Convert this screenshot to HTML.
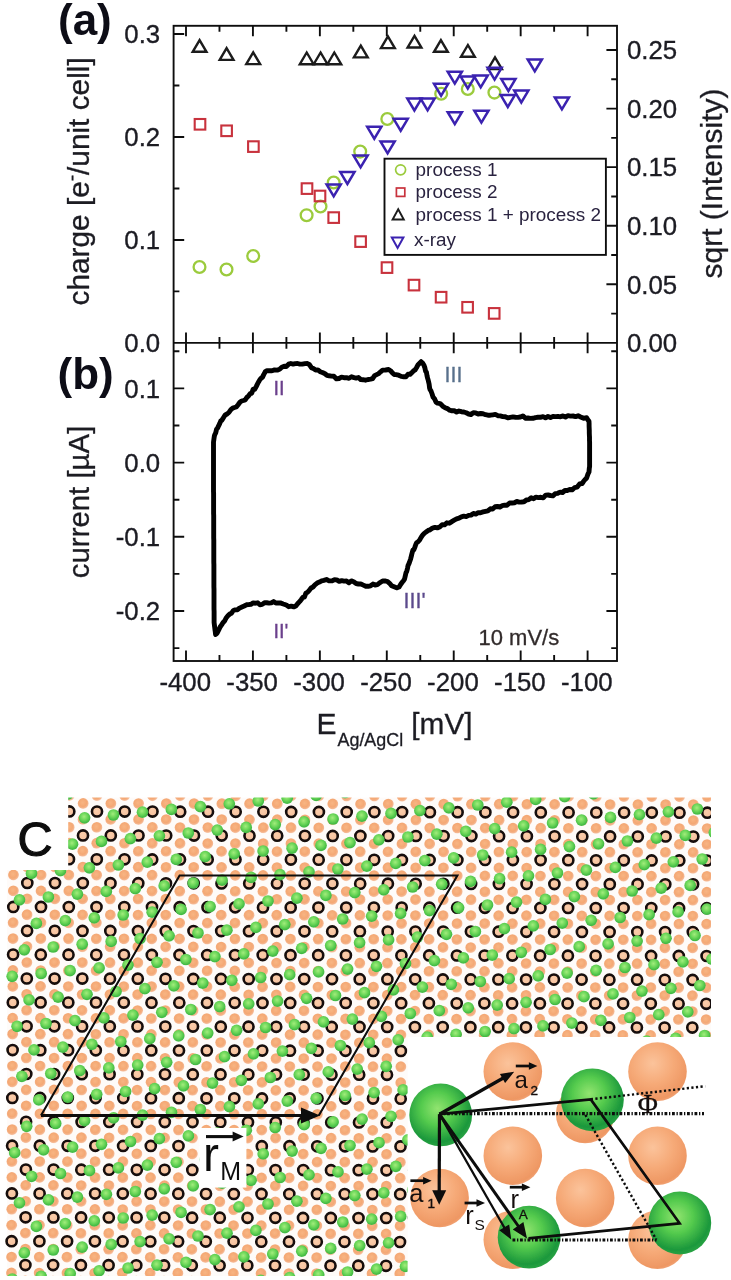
<!DOCTYPE html>
<html lang="en"><head><meta charset="utf-8"><title>Figure</title>
<style>html,body{margin:0;padding:0;background:#fff}body{width:731px;height:1280px;overflow:hidden}svg{display:block}</style></head><body>
<svg width="731" height="1280" viewBox="0 0 731 1280">
<rect width="731" height="1280" fill="#fff"/>
<defs><filter id="soft" x="0" y="0" width="731" height="1280" filterUnits="userSpaceOnUse"><feGaussianBlur stdDeviation="0.6"/></filter></defs>
<g filter="url(#soft)">
<rect x="-10" y="-10" width="751" height="1300" fill="#fff"/>
<g fill="none" stroke="#111" stroke-width="1.9" stroke-linecap="butt">
<rect x="173.6" y="25.8" width="443.4" height="635.2"/>
<line x1="173.6" y1="342.9" x2="617.0" y2="342.9"/>
<path d="M186 25.8v10.4M186 332.5V353.3M186 661.0v-10.4M219.47 25.8v5.9M219.47 337V348.8M219.47 661.0v-5.9M252.93 25.8v10.4M252.93 332.5V353.3M252.93 661.0v-10.4M286.4 25.8v5.9M286.4 337V348.8M286.4 661.0v-5.9M319.87 25.8v10.4M319.87 332.5V353.3M319.87 661.0v-10.4M353.33 25.8v5.9M353.33 337V348.8M353.33 661.0v-5.9M386.8 25.8v10.4M386.8 332.5V353.3M386.8 661.0v-10.4M420.27 25.8v5.9M420.27 337V348.8M420.27 661.0v-5.9M453.73 25.8v10.4M453.73 332.5V353.3M453.73 661.0v-10.4M487.2 25.8v5.9M487.2 337V348.8M487.2 661.0v-5.9M520.67 25.8v10.4M520.67 332.5V353.3M520.67 661.0v-10.4M554.13 25.8v5.9M554.13 337V348.8M554.13 661.0v-5.9M587.6 25.8v10.4M587.6 332.5V353.3M587.6 661.0v-10.4M173.6 291.42h5.8M173.6 239.93h10.6M173.6 188.45h5.8M173.6 136.97h10.6M173.6 85.48h5.8M173.6 34h10.6M617.0 313.61h-5.8M617.0 284.32h-10.6M617.0 255.03h-5.8M617.0 225.74h-10.6M617.0 196.45h-5.8M617.0 167.16h-10.6M617.0 137.87h-5.8M617.0 108.58h-10.6M617.0 79.29h-5.8M617.0 50h-10.6M173.6 648.1h5.8M617.0 648.1h-5.8M173.6 611h10.6M617.0 611h-10.6M173.6 573.9h5.8M617.0 573.9h-5.8M173.6 536.8h10.6M617.0 536.8h-10.6M173.6 499.7h5.8M617.0 499.7h-5.8M173.6 462.6h10.6M617.0 462.6h-10.6M173.6 425.5h5.8M617.0 425.5h-5.8M173.6 388.4h10.6M617.0 388.4h-10.6M173.6 351.3h5.8M617.0 351.3h-5.8"/>
</g>
<g font-family='"Liberation Sans", sans-serif' font-size="25.8" fill="#1c1c24" stroke="#1c1c24" stroke-width="0.35">
<text x="160.2" y="43.2" text-anchor="end">0.3</text>
<text x="160.2" y="146.4" text-anchor="end">0.2</text>
<text x="160.2" y="249.4" text-anchor="end">0.1</text>
<text x="160.2" y="352.1" text-anchor="end">0.0</text>
<text x="627" y="352.1">0.00</text>
<text x="627" y="293.52">0.05</text>
<text x="627" y="234.94">0.10</text>
<text x="627" y="176.36">0.15</text>
<text x="627" y="117.78">0.20</text>
<text x="627" y="59.2">0.25</text>
<text x="160.2" y="397.6" text-anchor="end">0.1</text>
<text x="160.2" y="471.8" text-anchor="end">0.0</text>
<text x="160.2" y="546" text-anchor="end">-0.1</text>
<text x="160.2" y="620.2" text-anchor="end">-0.2</text>
<text x="185.2" y="691.3" text-anchor="middle">-400</text>
<text x="252.13" y="691.3" text-anchor="middle">-350</text>
<text x="319.07" y="691.3" text-anchor="middle">-300</text>
<text x="386" y="691.3" text-anchor="middle">-250</text>
<text x="452.93" y="691.3" text-anchor="middle">-200</text>
<text x="519.87" y="691.3" text-anchor="middle">-150</text>
<text x="586.8" y="691.3" text-anchor="middle">-100</text>
</g>
<g font-family='"Liberation Sans", sans-serif' fill="#1c1c24" stroke="#1c1c24" stroke-width="0.3">
<text font-size="44" font-weight="bold" x="58" y="34.8" fill="#0d0d18" stroke="none">(a)</text>
<text font-size="44" font-weight="bold" x="57.5" y="389" fill="#0d0d18" stroke="none">(b)</text>
<text font-size="29.8" transform="translate(88.5 305.5) rotate(-90)">charge [e<tspan font-size="19" dy="-11">-</tspan><tspan dy="11">/unit cell]</tspan></text>
<text font-size="29.4" transform="translate(89 578.2) rotate(-90)">current [µA]</text>
<text font-size="30" transform="translate(722.3 278.5) rotate(-90)">sqrt (Intensity)</text>
<text font-size="30" x="316.5" y="733.8">E<tspan font-size="17.9" dy="12.3" dx="1">Ag/AgCl</tspan><tspan dy="-12.3" dx="8"> </tspan></text>
<text font-size="29.8" x="411.3" y="733.8">[mV]</text>
<text font-size="22" x="478.5" y="645" fill="#322c2c" stroke="#322c2c">10 mV/s</text>
<text font-size="20" x="273.4" y="395" fill="#6b3f8c" stroke="#6b3f8c">II</text>
<text font-size="21.5" x="444.6" y="381.6" fill="#58708c" stroke="#58708c">III</text>
<text font-size="20" x="273.4" y="637.5" fill="#6b3f8c" stroke="#6b3f8c">II'</text>
<text font-size="21.5" x="403.6" y="607.8" fill="#5b4a8c" stroke="#5b4a8c">III'</text>
</g>
<g fill="none" stroke="#9bcb3c" stroke-width="2.3">
<circle cx="199.5" cy="267" r="5.9"/>
<circle cx="226.5" cy="269.5" r="5.9"/>
<circle cx="253.2" cy="256" r="5.9"/>
<circle cx="306.6" cy="215.2" r="5.9"/>
<circle cx="320.5" cy="206.5" r="5.9"/>
<circle cx="333.7" cy="182.5" r="5.9"/>
<circle cx="360.2" cy="151.6" r="5.9"/>
<circle cx="387.3" cy="119" r="5.9"/>
<circle cx="441.2" cy="93.7" r="5.9"/>
<circle cx="467.8" cy="89" r="5.9"/>
<circle cx="494.4" cy="92.6" r="5.9"/>
</g>
<g fill="none" stroke="#c8323c" stroke-width="2.1">
<rect x="194.7" y="119" width="10.6" height="10.6"/>
<rect x="221.3" y="125.5" width="10.6" height="10.6"/>
<rect x="248.1" y="141.3" width="10.6" height="10.6"/>
<rect x="301.7" y="183.3" width="10.6" height="10.6"/>
<rect x="314.7" y="190.7" width="10.6" height="10.6"/>
<rect x="328.4" y="212.3" width="10.6" height="10.6"/>
<rect x="355.3" y="236.3" width="10.6" height="10.6"/>
<rect x="381.7" y="262.3" width="10.6" height="10.6"/>
<rect x="408.7" y="279.8" width="10.6" height="10.6"/>
<rect x="435.8" y="291.9" width="10.6" height="10.6"/>
<rect x="462.3" y="302" width="10.6" height="10.6"/>
<rect x="488.9" y="308.1" width="10.6" height="10.6"/>
</g>
<g fill="none" stroke="#1a1a1a" stroke-width="2.4" stroke-linejoin="miter">
<path d="M199.6 40.1l6.9 11.7h-13.8z"/>
<path d="M226.6 48.2l6.9 11.7h-13.8z"/>
<path d="M253.2 52.4l6.9 11.7h-13.8z"/>
<path d="M306.7 52.5l6.9 11.7h-13.8z"/>
<path d="M320.6 52.5l6.9 11.7h-13.8z"/>
<path d="M334.3 52.5l6.9 11.7h-13.8z"/>
<path d="M360.8 45.7l6.9 11.7h-13.8z"/>
<path d="M387.9 36.4l6.9 11.7h-13.8z"/>
<path d="M414.5 35.8l6.9 11.7h-13.8z"/>
<path d="M440.9 40.1l6.9 11.7h-13.8z"/>
<path d="M467.9 45l6.9 11.7h-13.8z"/>
<path d="M495 57.3l6.9 11.7h-13.8z"/>
</g>
<g fill="none" stroke="#3a22b0" stroke-width="2.5" stroke-linejoin="miter">
<path d="M326.6 184.4h14.2l-7.1 11.9z"/>
<path d="M340.3 172.1h14.2l-7.1 11.9z"/>
<path d="M353.5 155.4h14.2l-7.1 11.9z"/>
<path d="M367.2 126.8h14.2l-7.1 11.9z"/>
<path d="M380.5 141.5h14.2l-7.1 11.9z"/>
<path d="M393.6 118.8h14.2l-7.1 11.9z"/>
<path d="M407.3 98.6h14.2l-7.1 11.9z"/>
<path d="M420.5 98.5h14.2l-7.1 11.9z"/>
<path d="M434 83.8h14.2l-7.1 11.9z"/>
<path d="M447.7 71.7h14.2l-7.1 11.9z"/>
<path d="M447.7 112.2h14.2l-7.1 11.9z"/>
<path d="M460.7 76.6h14.2l-7.1 11.9z"/>
<path d="M473.6 75.4h14.2l-7.1 11.9z"/>
<path d="M474.3 110.7h14.2l-7.1 11.9z"/>
<path d="M487.5 67.7h14.2l-7.1 11.9z"/>
<path d="M501.3 79.1h14.2l-7.1 11.9z"/>
<path d="M500.7 95.1h14.2l-7.1 11.9z"/>
<path d="M514.2 90.6h14.2l-7.1 11.9z"/>
<path d="M527.7 59.4h14.2l-7.1 11.9z"/>
<path d="M554.8 97.5h14.2l-7.1 11.9z"/>
</g>
<rect x="384.5" y="158.7" width="221.4" height="96.2" fill="#fff" stroke="#111" stroke-width="1.9"/>
<circle cx="400.6" cy="169.8" r="5" fill="none" stroke="#9bcb3c" stroke-width="1.7"/>
<rect x="396.4" y="188" width="8.4" height="8.4" fill="none" stroke="#c8323c" stroke-width="1.7"/>
<path d="M398.2 209.3l5.6 10.2h-11.2z" fill="none" stroke="#1a1a1a" stroke-width="1.9"/>
<path d="M391.8 237.4h11.6l-5.8 10.6z" fill="none" stroke="#3a22b0" stroke-width="2"/>
<g font-family='"Liberation Sans", sans-serif' font-size="18.9" fill="#2a2440">
<text x="415.6" y="175.6">process 1</text>
<text x="415.6" y="198.4">process 2</text>
<text x="415.6" y="221.4">process 1 + process 2</text>
<text x="414" y="246.2">x-ray</text>
</g>
<path d="M213.5 479.9L213.5 477.7L213.5 475.5L213.5 473.3L213.5 471.1L213.5 468.8L213.5 466.6L213.5 464.4L213.5 462.2L213.5 460.0L213.5 457.8L213.5 455.6L213.5 453.4L213.5 451.1L213.5 448.9L213.5 446.7L213.5 444.5L213.5 442.3L213.9 439.3L214.3 436.4L214.7 434.8L215.7 432.9L216.6 429.2L217.6 428.1L218.6 425.8L219.7 423.6L220.8 420.9L222.0 420.1L223.1 418.2L225.1 415.0L227.1 414.0L229.1 412.2L230.9 409.6L232.7 408.1L234.5 407.5L236.3 407.0L238.1 404.7L239.9 402.2L241.6 401.0L243.4 400.5L245.2 399.9L246.9 397.4L248.7 395.7L250.2 393.6L251.7 393.3L253.2 389.1L254.7 389.4L256.2 386.6L257.4 384.1L258.7 381.7L259.9 379.6L261.2 378.1L262.4 377.4L263.7 374.6L265.2 371.8L266.7 370.7L269.4 370.8L272.0 370.8L274.6 369.9L277.3 370.1L279.6 369.3L281.8 367.2L284.1 366.3L286.3 366.5L288.6 364.2L290.8 363.5L293.1 364.1L295.3 363.6L297.6 363.5L299.8 364.1L302.3 364.1L304.9 363.6L307.4 363.5L309.4 364.7L311.4 367.7L313.4 368.6L315.6 370.1L317.9 369.9L320.1 371.7L322.4 372.5L324.6 373.5L326.9 375.3L329.1 375.8L331.4 376.1L333.9 376.3L336.5 378.9L339.0 378.5L341.5 377.2L344.0 377.7L346.5 377.6L349.0 378.3L351.5 376.7L354.0 377.6L356.2 378.1L358.5 377.5L360.8 379.6L363.0 379.7L365.5 380.2L368.1 379.5L370.6 379.1L372.6 378.6L374.6 375.6L376.6 374.6L378.6 373.6L380.6 371.8L382.6 370.1L385.6 370.0L388.6 369.5L390.5 370.7L392.4 372.9L394.2 374.5L396.1 374.6L398.6 375.2L401.2 376.4L403.7 376.7L406.0 376.7L408.0 374.2L410.0 374.4L412.0 372.5L413.5 370.9L415.1 369.9L416.6 367.5L418.1 364.7L421.1 361.7L422.6 363.1L424.1 365.6L424.9 367.9L425.6 371.3L426.4 372.2L427.1 376.1L427.6 378.3L428.1 379.8L428.6 381.9L429.1 384.0L429.6 388.1L430.1 389.7L431.1 391.2L432.1 394.0L433.1 397.2L434.6 398.9L436.1 402.2L437.6 403.2L440.1 403.6L442.6 406.1L445.1 407.7L447.4 408.6L449.6 410.2L451.9 410.8L454.2 410.7L456.6 412.1L459.0 411.0L461.4 411.7L463.8 412.0L466.2 412.8L468.6 414.0L471.0 414.5L473.4 412.6L475.8 412.9L478.2 414.0L480.6 413.5L483.0 413.8L485.5 414.7L487.9 415.2L490.3 415.2L492.8 414.8L495.3 414.4L497.8 415.7L500.3 415.9L502.8 416.6L505.3 416.7L507.8 417.9L510.3 417.3L512.9 416.9L515.4 417.2L517.9 417.4L520.4 417.0L522.9 415.9L525.4 418.2L527.9 418.0L530.4 418.4L532.9 418.3L535.4 417.6L537.9 417.3L540.4 417.3L543.0 416.6L545.5 417.9L548.0 416.5L550.5 417.6L553.0 416.4L555.5 416.6L558.0 416.4L560.5 416.8L563.0 415.9L565.5 417.0L568.0 415.7L570.5 416.1L573.0 416.0L575.6 416.6L578.1 415.8L580.6 417.0L583.6 418.3L586.6 417.6L587.8 419.7L589.0 421.3L589.1 423.6L589.1 426.0L589.2 428.3L589.3 430.6L589.3 433.0L589.4 435.3L589.5 437.6L589.5 440.0L589.6 442.3L589.6 444.7L589.6 447.1L589.6 449.5L589.6 451.9L589.6 454.4L589.6 456.8L589.6 459.2L589.6 461.6L589.6 464.0L589.6 466.4L589.3 468.3L589.0 472.0L587.8 474.4L586.6 478.1L585.1 479.5L583.6 481.3L582.1 483.5L579.6 483.9L577.0 487.2L574.5 487.7L572.1 489.9L569.7 489.5L567.3 490.5L564.9 490.5L562.5 492.5L560.1 492.1L557.7 493.3L555.3 493.7L552.9 495.8L550.5 495.5L548.1 495.0L545.7 495.1L543.2 497.9L540.8 497.3L538.4 497.6L536.0 497.2L533.6 498.7L531.2 497.8L528.8 499.6L526.4 500.0L524.0 501.8L521.6 502.0L519.2 502.1L516.8 501.5L514.4 502.7L512.0 503.0L509.6 503.0L507.1 505.2L504.7 505.2L502.3 505.7L499.9 507.0L497.5 506.5L495.1 506.8L492.7 509.0L490.3 508.8L487.9 510.8L485.5 511.3L483.0 511.9L480.6 512.7L478.2 512.7L475.8 514.1L473.4 513.5L471.0 515.1L468.6 515.4L466.2 516.6L463.8 516.1L461.4 516.8L459.0 518.2L456.6 518.9L454.2 520.2L451.8 521.6L449.4 523.2L446.9 522.8L444.5 524.9L442.1 524.7L439.7 527.0L437.3 527.9L434.9 527.4L432.5 528.1L430.1 529.8L428.2 530.4L426.4 531.7L424.5 533.1L422.6 535.2L421.1 537.4L419.6 540.0L418.1 541.8L416.6 542.8L415.7 544.8L414.8 547.4L413.8 549.9L412.9 550.1L412.0 553.3L411.4 555.9L410.7 558.7L410.1 560.5L409.4 562.5L408.8 564.0L408.1 565.3L407.5 568.3L406.7 571.5L406.0 572.7L405.2 576.3L404.5 579.2L403.7 580.4L402.2 582.3L400.6 584.5L399.1 587.0L396.6 587.8L394.1 586.8L391.6 585.8L389.6 583.3L387.6 581.6L385.6 581.0L382.6 581.0L379.6 582.8L377.4 584.6L375.1 585.1L372.9 584.1L370.6 585.8L368.2 586.3L365.8 586.3L363.3 585.1L360.9 584.0L358.5 584.0L356.1 583.5L353.7 581.8L351.3 580.9L348.9 582.8L346.5 581.0L344.1 581.1L341.7 580.6L339.2 581.4L336.8 579.9L334.4 579.8L331.8 580.9L329.1 580.9L326.5 579.5L323.9 580.4L321.6 580.9L319.4 582.1L317.1 583.1L314.9 584.9L313.0 587.0L311.1 588.0L309.3 590.3L307.4 592.4L305.9 593.2L304.4 597.1L302.8 597.4L301.3 599.5L299.8 601.4L297.8 603.5L295.8 606.1L293.8 606.9L291.3 606.1L288.8 606.7L286.3 605.0L283.3 604.0L280.3 602.9L278.1 603.0L275.8 603.0L273.6 601.6L271.3 602.9L269.0 603.1L266.8 602.8L264.5 602.7L262.2 604.4L259.9 604.8L257.7 602.8L255.4 603.2L253.2 602.9L250.9 604.3L248.7 604.6L246.4 604.8L244.2 606.0L241.9 607.0L239.6 608.1L237.4 609.7L235.1 609.9L233.3 610.5L231.5 613.3L229.7 614.1L227.9 615.8L226.1 618.0L224.6 621.0L223.1 622.5L221.6 624.9L220.1 627.0L218.6 630.2L217.1 633.1L215.6 634.5L215.3 632.0L215.0 630.0L214.7 627.3L214.4 624.9L214.1 622.5L214.1 620.3L214.1 618.0L214.1 615.8L214.1 613.6L214.1 611.4L214.0 609.1L214.0 606.9L214.0 604.7L214.0 602.4L214.0 600.2L214.0 598.0L214.0 595.8L214.0 593.5L214.0 591.3L214.0 589.1L213.9 586.9L213.9 584.6L213.9 582.4L213.9 580.2L213.9 577.9L213.9 575.7L213.9 573.5L213.9 571.3L213.9 569.0L213.9 566.8L213.9 564.6L213.8 562.3L213.8 560.1L213.8 557.9L213.8 555.7L213.8 553.4L213.8 551.2L213.8 549.0L213.8 546.7L213.8 544.5L213.8 542.3L213.8 540.1L213.7 537.8L213.7 535.6L213.7 533.4L213.7 531.1L213.7 528.9L213.7 526.7L213.7 524.5L213.7 522.2L213.7 520.0L213.7 517.8L213.7 515.5L213.6 513.3L213.6 511.1L213.6 508.9L213.6 506.6L213.6 504.4L213.6 502.2L213.6 500.0L213.6 497.7L213.6 495.5L213.6 493.3L213.5 491.0L213.5 488.8L213.5 486.6L213.5 484.4L213.5 482.1L213.5 479.9Z" fill="none" stroke="#000" stroke-width="4.9" stroke-linejoin="round" stroke-linecap="round"/>
<defs>
<radialGradient id="go" cx="0.45" cy="0.42" r="0.6"><stop offset="0" stop-color="#f8b583"/><stop offset="0.6" stop-color="#f4a874"/><stop offset="0.84" stop-color="#f5b690"/><stop offset="1" stop-color="#fbe3d3"/></radialGradient>
<radialGradient id="gg" cx="0.45" cy="0.4" r="0.62"><stop offset="0" stop-color="#a2ec7c"/><stop offset="0.5" stop-color="#6ad658"/><stop offset="0.88" stop-color="#42b944"/><stop offset="1" stop-color="#6ccc6a"/></radialGradient>
<radialGradient id="gO" cx="0.42" cy="0.36" r="0.7"><stop offset="0" stop-color="#fbc39b"/><stop offset="0.5" stop-color="#f6aa78"/><stop offset="0.88" stop-color="#ee9763"/><stop offset="1" stop-color="#f3ad84"/></radialGradient>
<radialGradient id="gG" cx="0.45" cy="0.4" r="0.62"><stop offset="0" stop-color="#92e470"/><stop offset="0.42" stop-color="#55cb4e"/><stop offset="0.85" stop-color="#1c983c"/><stop offset="1" stop-color="#2aa445"/></radialGradient>
<clipPath id="cl"><rect x="4.0" y="797.4" width="707.0" height="478.6"/></clipPath>
<filter id="soft2" x="0" y="790" width="731" height="490" filterUnits="userSpaceOnUse"><feGaussianBlur stdDeviation="0.65"/></filter>
<circle id="o" r="5.45" fill="url(#go)"/>
<circle id="k" r="5.05" fill="#fff" fill-opacity="0.32" stroke="#140c08" stroke-width="2.6"/>
<circle id="g" r="5.85" fill="url(#gg)"/>
</defs>
<g clip-path="url(#cl)"><g filter="url(#soft2)">
<rect x="7" y="797.4" width="704.0" height="478.6" fill="#fefbf9"/>
<use href="#o" x="69.3" y="795.5"/><use href="#o" x="69.3" y="811.4"/><use href="#o" x="83.2" y="803.5"/><use href="#o" x="97.1" y="795.6"/><use href="#o" x="69.2" y="827.4"/><use href="#o" x="83.1" y="819.4"/><use href="#o" x="97" y="811.5"/><use href="#o" x="110.9" y="803.6"/><use href="#o" x="124.8" y="795.6"/><use href="#o" x="13.5" y="875"/><use href="#o" x="27.4" y="867.1"/><use href="#o" x="69.1" y="843.3"/><use href="#o" x="83" y="835.4"/><use href="#o" x="96.9" y="827.4"/><use href="#o" x="110.8" y="819.5"/><use href="#o" x="124.7" y="811.6"/><use href="#o" x="138.6" y="803.6"/><use href="#o" x="152.6" y="795.7"/><use href="#o" x="13.4" y="890.9"/><use href="#o" x="27.3" y="883"/><use href="#o" x="41.2" y="875.1"/><use href="#o" x="55.1" y="867.1"/><use href="#o" x="69" y="859.2"/><use href="#o" x="82.9" y="851.3"/><use href="#o" x="96.8" y="843.3"/><use href="#o" x="110.8" y="835.4"/><use href="#o" x="124.7" y="827.5"/><use href="#o" x="138.6" y="819.5"/><use href="#o" x="152.5" y="811.6"/><use href="#o" x="166.4" y="803.7"/><use href="#o" x="180.3" y="795.7"/><use href="#o" x="13.3" y="906.9"/><use href="#o" x="27.2" y="898.9"/><use href="#o" x="41.1" y="891"/><use href="#o" x="55" y="883.1"/><use href="#o" x="68.9" y="875.1"/><use href="#o" x="82.9" y="867.2"/><use href="#o" x="96.8" y="859.3"/><use href="#o" x="110.7" y="851.3"/><use href="#o" x="124.6" y="843.4"/><use href="#o" x="138.5" y="835.5"/><use href="#o" x="152.4" y="827.5"/><use href="#o" x="166.3" y="819.6"/><use href="#o" x="180.2" y="811.7"/><use href="#o" x="194.1" y="803.7"/><use href="#o" x="208" y="795.8"/><use href="#o" x="13.2" y="922.8"/><use href="#o" x="27.1" y="914.8"/><use href="#o" x="41" y="906.9"/><use href="#o" x="55" y="899"/><use href="#o" x="68.9" y="891"/><use href="#o" x="82.8" y="883.1"/><use href="#o" x="96.7" y="875.2"/><use href="#o" x="110.6" y="867.2"/><use href="#o" x="124.5" y="859.3"/><use href="#o" x="138.4" y="851.4"/><use href="#o" x="152.3" y="843.5"/><use href="#o" x="166.2" y="835.5"/><use href="#o" x="180.1" y="827.6"/><use href="#o" x="194.1" y="819.7"/><use href="#o" x="208" y="811.7"/><use href="#o" x="221.9" y="803.8"/><use href="#o" x="235.8" y="795.9"/><use href="#o" x="13.1" y="938.7"/><use href="#o" x="27.1" y="930.8"/><use href="#o" x="41" y="922.8"/><use href="#o" x="54.9" y="914.9"/><use href="#o" x="68.8" y="907"/><use href="#o" x="82.7" y="899"/><use href="#o" x="96.6" y="891.1"/><use href="#o" x="110.5" y="883.2"/><use href="#o" x="124.4" y="875.2"/><use href="#o" x="138.3" y="867.3"/><use href="#o" x="152.2" y="859.4"/><use href="#o" x="166.2" y="851.4"/><use href="#o" x="180.1" y="843.5"/><use href="#o" x="194" y="835.6"/><use href="#o" x="207.9" y="827.6"/><use href="#o" x="221.8" y="819.7"/><use href="#o" x="235.7" y="811.8"/><use href="#o" x="249.6" y="803.8"/><use href="#o" x="263.5" y="795.9"/><use href="#o" x="13.1" y="954.6"/><use href="#o" x="27" y="946.7"/><use href="#o" x="40.9" y="938.7"/><use href="#o" x="54.8" y="930.8"/><use href="#o" x="68.7" y="922.9"/><use href="#o" x="82.6" y="915"/><use href="#o" x="96.5" y="907"/><use href="#o" x="110.4" y="899.1"/><use href="#o" x="124.3" y="891.2"/><use href="#o" x="138.3" y="883.2"/><use href="#o" x="152.2" y="875.3"/><use href="#o" x="166.1" y="867.4"/><use href="#o" x="180" y="859.4"/><use href="#o" x="193.9" y="851.5"/><use href="#o" x="207.8" y="843.6"/><use href="#o" x="221.7" y="835.6"/><use href="#o" x="235.6" y="827.7"/><use href="#o" x="249.5" y="819.8"/><use href="#o" x="263.4" y="811.8"/><use href="#o" x="277.3" y="803.9"/><use href="#o" x="291.3" y="796"/><use href="#o" x="13" y="970.5"/><use href="#o" x="26.9" y="962.6"/><use href="#o" x="40.8" y="954.7"/><use href="#o" x="54.7" y="946.7"/><use href="#o" x="68.6" y="938.8"/><use href="#o" x="82.5" y="930.9"/><use href="#o" x="96.4" y="922.9"/><use href="#o" x="110.4" y="915"/><use href="#o" x="124.3" y="907.1"/><use href="#o" x="138.2" y="899.1"/><use href="#o" x="152.1" y="891.2"/><use href="#o" x="166" y="883.3"/><use href="#o" x="179.9" y="875.3"/><use href="#o" x="193.8" y="867.4"/><use href="#o" x="207.7" y="859.5"/><use href="#o" x="221.6" y="851.5"/><use href="#o" x="235.5" y="843.6"/><use href="#o" x="249.5" y="835.7"/><use href="#o" x="263.4" y="827.8"/><use href="#o" x="277.3" y="819.8"/><use href="#o" x="291.2" y="811.9"/><use href="#o" x="305.1" y="804"/><use href="#o" x="319" y="796"/><use href="#o" x="12.9" y="986.5"/><use href="#o" x="26.8" y="978.5"/><use href="#o" x="40.7" y="970.6"/><use href="#o" x="54.6" y="962.7"/><use href="#o" x="68.5" y="954.7"/><use href="#o" x="82.5" y="946.8"/><use href="#o" x="96.4" y="938.9"/><use href="#o" x="110.3" y="930.9"/><use href="#o" x="124.2" y="923"/><use href="#o" x="138.1" y="915.1"/><use href="#o" x="152" y="907.1"/><use href="#o" x="165.9" y="899.2"/><use href="#o" x="179.8" y="891.3"/><use href="#o" x="193.7" y="883.3"/><use href="#o" x="207.6" y="875.4"/><use href="#o" x="221.6" y="867.5"/><use href="#o" x="235.5" y="859.5"/><use href="#o" x="249.4" y="851.6"/><use href="#o" x="263.3" y="843.7"/><use href="#o" x="277.2" y="835.7"/><use href="#o" x="291.1" y="827.8"/><use href="#o" x="305" y="819.9"/><use href="#o" x="318.9" y="811.9"/><use href="#o" x="332.8" y="804"/><use href="#o" x="346.7" y="796.1"/><use href="#o" x="12.8" y="1002.4"/><use href="#o" x="26.7" y="994.4"/><use href="#o" x="40.6" y="986.5"/><use href="#o" x="54.6" y="978.6"/><use href="#o" x="68.5" y="970.6"/><use href="#o" x="82.4" y="962.7"/><use href="#o" x="96.3" y="954.8"/><use href="#o" x="110.2" y="946.8"/><use href="#o" x="124.1" y="938.9"/><use href="#o" x="138" y="931"/><use href="#o" x="151.9" y="923.1"/><use href="#o" x="165.8" y="915.1"/><use href="#o" x="179.7" y="907.2"/><use href="#o" x="193.7" y="899.3"/><use href="#o" x="207.6" y="891.3"/><use href="#o" x="221.5" y="883.4"/><use href="#o" x="235.4" y="875.5"/><use href="#o" x="249.3" y="867.5"/><use href="#o" x="263.2" y="859.6"/><use href="#o" x="277.1" y="851.7"/><use href="#o" x="291" y="843.7"/><use href="#o" x="304.9" y="835.8"/><use href="#o" x="318.8" y="827.9"/><use href="#o" x="332.8" y="819.9"/><use href="#o" x="346.7" y="812"/><use href="#o" x="360.6" y="804.1"/><use href="#o" x="374.5" y="796.1"/><use href="#o" x="12.7" y="1018.3"/><use href="#o" x="26.7" y="1010.4"/><use href="#o" x="40.6" y="1002.4"/><use href="#o" x="54.5" y="994.5"/><use href="#o" x="68.4" y="986.6"/><use href="#o" x="82.3" y="978.6"/><use href="#o" x="96.2" y="970.7"/><use href="#o" x="110.1" y="962.8"/><use href="#o" x="124" y="954.8"/><use href="#o" x="137.9" y="946.9"/><use href="#o" x="151.8" y="939"/><use href="#o" x="165.8" y="931"/><use href="#o" x="179.7" y="923.1"/><use href="#o" x="193.6" y="915.2"/><use href="#o" x="207.5" y="907.2"/><use href="#o" x="221.4" y="899.3"/><use href="#o" x="235.3" y="891.4"/><use href="#o" x="249.2" y="883.4"/><use href="#o" x="263.1" y="875.5"/><use href="#o" x="277" y="867.6"/><use href="#o" x="290.9" y="859.6"/><use href="#o" x="304.9" y="851.7"/><use href="#o" x="318.8" y="843.8"/><use href="#o" x="332.7" y="835.9"/><use href="#o" x="346.6" y="827.9"/><use href="#o" x="360.5" y="820"/><use href="#o" x="374.4" y="812.1"/><use href="#o" x="388.3" y="804.1"/><use href="#o" x="402.2" y="796.2"/><use href="#o" x="12.7" y="1034.2"/><use href="#o" x="26.6" y="1026.3"/><use href="#o" x="40.5" y="1018.3"/><use href="#o" x="54.4" y="1010.4"/><use href="#o" x="68.3" y="1002.5"/><use href="#o" x="82.2" y="994.6"/><use href="#o" x="96.1" y="986.6"/><use href="#o" x="110" y="978.7"/><use href="#o" x="123.9" y="970.8"/><use href="#o" x="137.9" y="962.8"/><use href="#o" x="151.8" y="954.9"/><use href="#o" x="165.7" y="947"/><use href="#o" x="179.6" y="939"/><use href="#o" x="193.5" y="931.1"/><use href="#o" x="207.4" y="923.2"/><use href="#o" x="221.3" y="915.2"/><use href="#o" x="235.2" y="907.3"/><use href="#o" x="249.1" y="899.4"/><use href="#o" x="263" y="891.4"/><use href="#o" x="277" y="883.5"/><use href="#o" x="290.9" y="875.6"/><use href="#o" x="304.8" y="867.6"/><use href="#o" x="318.7" y="859.7"/><use href="#o" x="332.6" y="851.8"/><use href="#o" x="346.5" y="843.8"/><use href="#o" x="360.4" y="835.9"/><use href="#o" x="374.3" y="828"/><use href="#o" x="388.2" y="820"/><use href="#o" x="402.1" y="812.1"/><use href="#o" x="416" y="804.2"/><use href="#o" x="430" y="796.2"/><use href="#o" x="12.6" y="1050.1"/><use href="#o" x="26.5" y="1042.2"/><use href="#o" x="40.4" y="1034.3"/><use href="#o" x="54.3" y="1026.3"/><use href="#o" x="68.2" y="1018.4"/><use href="#o" x="82.1" y="1010.5"/><use href="#o" x="96" y="1002.5"/><use href="#o" x="110" y="994.6"/><use href="#o" x="123.9" y="986.7"/><use href="#o" x="137.8" y="978.7"/><use href="#o" x="151.7" y="970.8"/><use href="#o" x="165.6" y="962.9"/><use href="#o" x="179.5" y="954.9"/><use href="#o" x="193.4" y="947"/><use href="#o" x="207.3" y="939.1"/><use href="#o" x="221.2" y="931.1"/><use href="#o" x="235.1" y="923.2"/><use href="#o" x="249.1" y="915.3"/><use href="#o" x="263" y="907.4"/><use href="#o" x="276.9" y="899.4"/><use href="#o" x="290.8" y="891.5"/><use href="#o" x="304.7" y="883.6"/><use href="#o" x="318.6" y="875.6"/><use href="#o" x="332.5" y="867.7"/><use href="#o" x="346.4" y="859.8"/><use href="#o" x="360.3" y="851.8"/><use href="#o" x="374.2" y="843.9"/><use href="#o" x="388.2" y="836"/><use href="#o" x="402.1" y="828"/><use href="#o" x="416" y="820.1"/><use href="#o" x="429.9" y="812.2"/><use href="#o" x="443.8" y="804.2"/><use href="#o" x="457.7" y="796.3"/><use href="#o" x="12.5" y="1066.1"/><use href="#o" x="26.4" y="1058.1"/><use href="#o" x="40.3" y="1050.2"/><use href="#o" x="54.2" y="1042.3"/><use href="#o" x="68.1" y="1034.3"/><use href="#o" x="82.1" y="1026.4"/><use href="#o" x="96" y="1018.5"/><use href="#o" x="109.9" y="1010.5"/><use href="#o" x="123.8" y="1002.6"/><use href="#o" x="137.7" y="994.7"/><use href="#o" x="151.6" y="986.7"/><use href="#o" x="165.5" y="978.8"/><use href="#o" x="179.4" y="970.9"/><use href="#o" x="193.3" y="962.9"/><use href="#o" x="207.2" y="955"/><use href="#o" x="221.2" y="947.1"/><use href="#o" x="235.1" y="939.1"/><use href="#o" x="249" y="931.2"/><use href="#o" x="262.9" y="923.3"/><use href="#o" x="276.8" y="915.3"/><use href="#o" x="290.7" y="907.4"/><use href="#o" x="304.6" y="899.5"/><use href="#o" x="318.5" y="891.5"/><use href="#o" x="332.4" y="883.6"/><use href="#o" x="346.3" y="875.7"/><use href="#o" x="360.3" y="867.7"/><use href="#o" x="374.2" y="859.8"/><use href="#o" x="388.1" y="851.9"/><use href="#o" x="402" y="844"/><use href="#o" x="415.9" y="836"/><use href="#o" x="429.8" y="828.1"/><use href="#o" x="443.7" y="820.2"/><use href="#o" x="457.6" y="812.2"/><use href="#o" x="471.5" y="804.3"/><use href="#o" x="485.4" y="796.4"/><use href="#o" x="12.4" y="1082"/><use href="#o" x="26.3" y="1074"/><use href="#o" x="40.2" y="1066.1"/><use href="#o" x="54.2" y="1058.2"/><use href="#o" x="68.1" y="1050.2"/><use href="#o" x="82" y="1042.3"/><use href="#o" x="95.9" y="1034.4"/><use href="#o" x="109.8" y="1026.4"/><use href="#o" x="123.7" y="1018.5"/><use href="#o" x="137.6" y="1010.6"/><use href="#o" x="151.5" y="1002.7"/><use href="#o" x="165.4" y="994.7"/><use href="#o" x="179.3" y="986.8"/><use href="#o" x="193.3" y="978.9"/><use href="#o" x="207.2" y="970.9"/><use href="#o" x="221.1" y="963"/><use href="#o" x="235" y="955.1"/><use href="#o" x="248.9" y="947.1"/><use href="#o" x="262.8" y="939.2"/><use href="#o" x="276.7" y="931.3"/><use href="#o" x="290.6" y="923.3"/><use href="#o" x="304.5" y="915.4"/><use href="#o" x="318.4" y="907.5"/><use href="#o" x="332.4" y="899.5"/><use href="#o" x="346.3" y="891.6"/><use href="#o" x="360.2" y="883.7"/><use href="#o" x="374.1" y="875.7"/><use href="#o" x="388" y="867.8"/><use href="#o" x="401.9" y="859.9"/><use href="#o" x="415.8" y="851.9"/><use href="#o" x="429.7" y="844"/><use href="#o" x="443.6" y="836.1"/><use href="#o" x="457.5" y="828.1"/><use href="#o" x="471.5" y="820.2"/><use href="#o" x="485.4" y="812.3"/><use href="#o" x="499.3" y="804.3"/><use href="#o" x="513.2" y="796.4"/><use href="#o" x="12.3" y="1097.9"/><use href="#o" x="26.3" y="1090"/><use href="#o" x="40.2" y="1082"/><use href="#o" x="54.1" y="1074.1"/><use href="#o" x="68" y="1066.2"/><use href="#o" x="81.9" y="1058.2"/><use href="#o" x="95.8" y="1050.3"/><use href="#o" x="109.7" y="1042.4"/><use href="#o" x="123.6" y="1034.4"/><use href="#o" x="137.5" y="1026.5"/><use href="#o" x="151.4" y="1018.6"/><use href="#o" x="165.4" y="1010.6"/><use href="#o" x="179.3" y="1002.7"/><use href="#o" x="193.2" y="994.8"/><use href="#o" x="207.1" y="986.8"/><use href="#o" x="221" y="978.9"/><use href="#o" x="234.9" y="971"/><use href="#o" x="248.8" y="963"/><use href="#o" x="262.7" y="955.1"/><use href="#o" x="276.6" y="947.2"/><use href="#o" x="290.5" y="939.2"/><use href="#o" x="304.5" y="931.3"/><use href="#o" x="318.4" y="923.4"/><use href="#o" x="332.3" y="915.5"/><use href="#o" x="346.2" y="907.5"/><use href="#o" x="360.1" y="899.6"/><use href="#o" x="374" y="891.7"/><use href="#o" x="387.9" y="883.7"/><use href="#o" x="401.8" y="875.8"/><use href="#o" x="415.7" y="867.9"/><use href="#o" x="429.6" y="859.9"/><use href="#o" x="443.6" y="852"/><use href="#o" x="457.5" y="844.1"/><use href="#o" x="471.4" y="836.1"/><use href="#o" x="485.3" y="828.2"/><use href="#o" x="499.2" y="820.3"/><use href="#o" x="513.1" y="812.3"/><use href="#o" x="527" y="804.4"/><use href="#o" x="540.9" y="796.5"/><use href="#o" x="12.3" y="1113.8"/><use href="#o" x="26.2" y="1105.9"/><use href="#o" x="40.1" y="1097.9"/><use href="#o" x="54" y="1090"/><use href="#o" x="67.9" y="1082.1"/><use href="#o" x="81.8" y="1074.2"/><use href="#o" x="95.7" y="1066.2"/><use href="#o" x="109.6" y="1058.3"/><use href="#o" x="123.5" y="1050.4"/><use href="#o" x="137.5" y="1042.4"/><use href="#o" x="151.4" y="1034.5"/><use href="#o" x="165.3" y="1026.6"/><use href="#o" x="179.2" y="1018.6"/><use href="#o" x="193.1" y="1010.7"/><use href="#o" x="207" y="1002.8"/><use href="#o" x="220.9" y="994.8"/><use href="#o" x="234.8" y="986.9"/><use href="#o" x="248.7" y="979"/><use href="#o" x="262.6" y="971"/><use href="#o" x="276.6" y="963.1"/><use href="#o" x="290.5" y="955.2"/><use href="#o" x="304.4" y="947.2"/><use href="#o" x="318.3" y="939.3"/><use href="#o" x="332.2" y="931.4"/><use href="#o" x="346.1" y="923.4"/><use href="#o" x="360" y="915.5"/><use href="#o" x="373.9" y="907.6"/><use href="#o" x="387.8" y="899.6"/><use href="#o" x="401.7" y="891.7"/><use href="#o" x="415.7" y="883.8"/><use href="#o" x="429.6" y="875.8"/><use href="#o" x="443.5" y="867.9"/><use href="#o" x="457.4" y="860"/><use href="#o" x="471.3" y="852"/><use href="#o" x="485.2" y="844.1"/><use href="#o" x="499.1" y="836.2"/><use href="#o" x="513" y="828.3"/><use href="#o" x="526.9" y="820.3"/><use href="#o" x="540.8" y="812.4"/><use href="#o" x="554.7" y="804.5"/><use href="#o" x="568.7" y="796.5"/><use href="#o" x="12.2" y="1129.7"/><use href="#o" x="26.1" y="1121.8"/><use href="#o" x="40" y="1113.9"/><use href="#o" x="53.9" y="1105.9"/><use href="#o" x="67.8" y="1098"/><use href="#o" x="81.7" y="1090.1"/><use href="#o" x="95.6" y="1082.1"/><use href="#o" x="109.6" y="1074.2"/><use href="#o" x="123.5" y="1066.3"/><use href="#o" x="137.4" y="1058.3"/><use href="#o" x="151.3" y="1050.4"/><use href="#o" x="165.2" y="1042.5"/><use href="#o" x="179.1" y="1034.5"/><use href="#o" x="193" y="1026.6"/><use href="#o" x="206.9" y="1018.7"/><use href="#o" x="220.8" y="1010.7"/><use href="#o" x="234.7" y="1002.8"/><use href="#o" x="248.7" y="994.9"/><use href="#o" x="262.6" y="987"/><use href="#o" x="276.5" y="979"/><use href="#o" x="290.4" y="971.1"/><use href="#o" x="304.3" y="963.2"/><use href="#o" x="318.2" y="955.2"/><use href="#o" x="332.1" y="947.3"/><use href="#o" x="346" y="939.4"/><use href="#o" x="359.9" y="931.4"/><use href="#o" x="373.8" y="923.5"/><use href="#o" x="387.8" y="915.6"/><use href="#o" x="401.7" y="907.6"/><use href="#o" x="415.6" y="899.7"/><use href="#o" x="429.5" y="891.8"/><use href="#o" x="443.4" y="883.8"/><use href="#o" x="457.3" y="875.9"/><use href="#o" x="471.2" y="868"/><use href="#o" x="485.1" y="860"/><use href="#o" x="499" y="852.1"/><use href="#o" x="512.9" y="844.2"/><use href="#o" x="526.9" y="836.2"/><use href="#o" x="540.8" y="828.3"/><use href="#o" x="554.7" y="820.4"/><use href="#o" x="568.6" y="812.4"/><use href="#o" x="582.5" y="804.5"/><use href="#o" x="596.4" y="796.6"/><use href="#o" x="12.1" y="1145.7"/><use href="#o" x="26" y="1137.7"/><use href="#o" x="39.9" y="1129.8"/><use href="#o" x="53.8" y="1121.9"/><use href="#o" x="67.7" y="1113.9"/><use href="#o" x="81.7" y="1106"/><use href="#o" x="95.6" y="1098.1"/><use href="#o" x="109.5" y="1090.1"/><use href="#o" x="123.4" y="1082.2"/><use href="#o" x="137.3" y="1074.3"/><use href="#o" x="151.2" y="1066.3"/><use href="#o" x="165.1" y="1058.4"/><use href="#o" x="179" y="1050.5"/><use href="#o" x="192.9" y="1042.5"/><use href="#o" x="206.8" y="1034.6"/><use href="#o" x="220.8" y="1026.7"/><use href="#o" x="234.7" y="1018.7"/><use href="#o" x="248.6" y="1010.8"/><use href="#o" x="262.5" y="1002.9"/><use href="#o" x="276.4" y="994.9"/><use href="#o" x="290.3" y="987"/><use href="#o" x="304.2" y="979.1"/><use href="#o" x="318.1" y="971.1"/><use href="#o" x="332" y="963.2"/><use href="#o" x="345.9" y="955.3"/><use href="#o" x="359.9" y="947.3"/><use href="#o" x="373.8" y="939.4"/><use href="#o" x="387.7" y="931.5"/><use href="#o" x="401.6" y="923.6"/><use href="#o" x="415.5" y="915.6"/><use href="#o" x="429.4" y="907.7"/><use href="#o" x="443.3" y="899.8"/><use href="#o" x="457.2" y="891.8"/><use href="#o" x="471.1" y="883.9"/><use href="#o" x="485" y="876"/><use href="#o" x="499" y="868"/><use href="#o" x="512.9" y="860.1"/><use href="#o" x="526.8" y="852.2"/><use href="#o" x="540.7" y="844.2"/><use href="#o" x="554.6" y="836.3"/><use href="#o" x="568.5" y="828.4"/><use href="#o" x="582.4" y="820.4"/><use href="#o" x="596.3" y="812.5"/><use href="#o" x="610.2" y="804.6"/><use href="#o" x="624.1" y="796.6"/><use href="#o" x="12" y="1161.6"/><use href="#o" x="25.9" y="1153.6"/><use href="#o" x="39.8" y="1145.7"/><use href="#o" x="53.8" y="1137.8"/><use href="#o" x="67.7" y="1129.8"/><use href="#o" x="81.6" y="1121.9"/><use href="#o" x="95.5" y="1114"/><use href="#o" x="109.4" y="1106"/><use href="#o" x="123.3" y="1098.1"/><use href="#o" x="137.2" y="1090.2"/><use href="#o" x="151.1" y="1082.3"/><use href="#o" x="165" y="1074.3"/><use href="#o" x="178.9" y="1066.4"/><use href="#o" x="192.9" y="1058.5"/><use href="#o" x="206.8" y="1050.5"/><use href="#o" x="220.7" y="1042.6"/><use href="#o" x="234.6" y="1034.7"/><use href="#o" x="248.5" y="1026.7"/><use href="#o" x="262.4" y="1018.8"/><use href="#o" x="276.3" y="1010.9"/><use href="#o" x="290.2" y="1002.9"/><use href="#o" x="304.1" y="995"/><use href="#o" x="318" y="987.1"/><use href="#o" x="332" y="979.1"/><use href="#o" x="345.9" y="971.2"/><use href="#o" x="359.8" y="963.3"/><use href="#o" x="373.7" y="955.3"/><use href="#o" x="387.6" y="947.4"/><use href="#o" x="401.5" y="939.5"/><use href="#o" x="415.4" y="931.5"/><use href="#o" x="429.3" y="923.6"/><use href="#o" x="443.2" y="915.7"/><use href="#o" x="457.1" y="907.7"/><use href="#o" x="471.1" y="899.8"/><use href="#o" x="485" y="891.9"/><use href="#o" x="498.9" y="883.9"/><use href="#o" x="512.8" y="876"/><use href="#o" x="526.7" y="868.1"/><use href="#o" x="540.6" y="860.1"/><use href="#o" x="554.5" y="852.2"/><use href="#o" x="568.4" y="844.3"/><use href="#o" x="582.3" y="836.4"/><use href="#o" x="596.2" y="828.4"/><use href="#o" x="610.2" y="820.5"/><use href="#o" x="624.1" y="812.6"/><use href="#o" x="638" y="804.6"/><use href="#o" x="651.9" y="796.7"/><use href="#o" x="11.9" y="1177.5"/><use href="#o" x="25.9" y="1169.6"/><use href="#o" x="39.8" y="1161.6"/><use href="#o" x="53.7" y="1153.7"/><use href="#o" x="67.6" y="1145.8"/><use href="#o" x="81.5" y="1137.8"/><use href="#o" x="95.4" y="1129.9"/><use href="#o" x="109.3" y="1122"/><use href="#o" x="123.2" y="1114"/><use href="#o" x="137.1" y="1106.1"/><use href="#o" x="151" y="1098.2"/><use href="#o" x="165" y="1090.2"/><use href="#o" x="178.9" y="1082.3"/><use href="#o" x="192.8" y="1074.4"/><use href="#o" x="206.7" y="1066.4"/><use href="#o" x="220.6" y="1058.5"/><use href="#o" x="234.5" y="1050.6"/><use href="#o" x="248.4" y="1042.6"/><use href="#o" x="262.3" y="1034.7"/><use href="#o" x="276.2" y="1026.8"/><use href="#o" x="290.1" y="1018.8"/><use href="#o" x="304.1" y="1010.9"/><use href="#o" x="318" y="1003"/><use href="#o" x="331.9" y="995.1"/><use href="#o" x="345.8" y="987.1"/><use href="#o" x="359.7" y="979.2"/><use href="#o" x="373.6" y="971.3"/><use href="#o" x="387.5" y="963.3"/><use href="#o" x="401.4" y="955.4"/><use href="#o" x="415.3" y="947.5"/><use href="#o" x="429.2" y="939.5"/><use href="#o" x="443.2" y="931.6"/><use href="#o" x="457.1" y="923.7"/><use href="#o" x="471" y="915.7"/><use href="#o" x="484.9" y="907.8"/><use href="#o" x="498.8" y="899.9"/><use href="#o" x="512.7" y="891.9"/><use href="#o" x="526.6" y="884"/><use href="#o" x="540.5" y="876.1"/><use href="#o" x="554.4" y="868.1"/><use href="#o" x="568.3" y="860.2"/><use href="#o" x="582.3" y="852.3"/><use href="#o" x="596.2" y="844.3"/><use href="#o" x="610.1" y="836.4"/><use href="#o" x="624" y="828.5"/><use href="#o" x="637.9" y="820.5"/><use href="#o" x="651.8" y="812.6"/><use href="#o" x="665.7" y="804.7"/><use href="#o" x="679.6" y="796.7"/><use href="#o" x="11.9" y="1193.4"/><use href="#o" x="25.8" y="1185.5"/><use href="#o" x="39.7" y="1177.5"/><use href="#o" x="53.6" y="1169.6"/><use href="#o" x="67.5" y="1161.7"/><use href="#o" x="81.4" y="1153.8"/><use href="#o" x="95.3" y="1145.8"/><use href="#o" x="109.2" y="1137.9"/><use href="#o" x="123.1" y="1130"/><use href="#o" x="137.1" y="1122"/><use href="#o" x="151" y="1114.1"/><use href="#o" x="164.9" y="1106.2"/><use href="#o" x="178.8" y="1098.2"/><use href="#o" x="192.7" y="1090.3"/><use href="#o" x="206.6" y="1082.4"/><use href="#o" x="220.5" y="1074.4"/><use href="#o" x="234.4" y="1066.5"/><use href="#o" x="248.3" y="1058.6"/><use href="#o" x="262.2" y="1050.6"/><use href="#o" x="276.2" y="1042.7"/><use href="#o" x="290.1" y="1034.8"/><use href="#o" x="304" y="1026.8"/><use href="#o" x="317.9" y="1018.9"/><use href="#o" x="331.8" y="1011"/><use href="#o" x="345.7" y="1003"/><use href="#o" x="359.6" y="995.1"/><use href="#o" x="373.5" y="987.2"/><use href="#o" x="387.4" y="979.2"/><use href="#o" x="401.3" y="971.3"/><use href="#o" x="415.3" y="963.4"/><use href="#o" x="429.2" y="955.4"/><use href="#o" x="443.1" y="947.5"/><use href="#o" x="457" y="939.6"/><use href="#o" x="470.9" y="931.6"/><use href="#o" x="484.8" y="923.7"/><use href="#o" x="498.7" y="915.8"/><use href="#o" x="512.6" y="907.9"/><use href="#o" x="526.5" y="899.9"/><use href="#o" x="540.4" y="892"/><use href="#o" x="554.4" y="884.1"/><use href="#o" x="568.3" y="876.1"/><use href="#o" x="582.2" y="868.2"/><use href="#o" x="596.1" y="860.3"/><use href="#o" x="610" y="852.3"/><use href="#o" x="623.9" y="844.4"/><use href="#o" x="637.8" y="836.5"/><use href="#o" x="651.7" y="828.5"/><use href="#o" x="665.6" y="820.6"/><use href="#o" x="679.5" y="812.7"/><use href="#o" x="693.4" y="804.7"/><use href="#o" x="707.4" y="796.8"/><use href="#o" x="11.8" y="1209.3"/><use href="#o" x="25.7" y="1201.4"/><use href="#o" x="39.6" y="1193.5"/><use href="#o" x="53.5" y="1185.5"/><use href="#o" x="67.4" y="1177.6"/><use href="#o" x="81.3" y="1169.7"/><use href="#o" x="95.2" y="1161.7"/><use href="#o" x="109.2" y="1153.8"/><use href="#o" x="123.1" y="1145.9"/><use href="#o" x="137" y="1137.9"/><use href="#o" x="150.9" y="1130"/><use href="#o" x="164.8" y="1122.1"/><use href="#o" x="178.7" y="1114.1"/><use href="#o" x="192.6" y="1106.2"/><use href="#o" x="206.5" y="1098.3"/><use href="#o" x="220.4" y="1090.3"/><use href="#o" x="234.3" y="1082.4"/><use href="#o" x="248.3" y="1074.5"/><use href="#o" x="262.2" y="1066.6"/><use href="#o" x="276.1" y="1058.6"/><use href="#o" x="290" y="1050.7"/><use href="#o" x="303.9" y="1042.8"/><use href="#o" x="317.8" y="1034.8"/><use href="#o" x="331.7" y="1026.9"/><use href="#o" x="345.6" y="1019"/><use href="#o" x="359.5" y="1011"/><use href="#o" x="373.4" y="1003.1"/><use href="#o" x="387.4" y="995.2"/><use href="#o" x="401.3" y="987.2"/><use href="#o" x="415.2" y="979.3"/><use href="#o" x="429.1" y="971.4"/><use href="#o" x="443" y="963.4"/><use href="#o" x="456.9" y="955.5"/><use href="#o" x="470.8" y="947.6"/><use href="#o" x="484.7" y="939.6"/><use href="#o" x="498.6" y="931.7"/><use href="#o" x="512.5" y="923.8"/><use href="#o" x="526.5" y="915.8"/><use href="#o" x="540.4" y="907.9"/><use href="#o" x="554.3" y="900"/><use href="#o" x="568.2" y="892"/><use href="#o" x="582.1" y="884.1"/><use href="#o" x="596" y="876.2"/><use href="#o" x="609.9" y="868.2"/><use href="#o" x="623.8" y="860.3"/><use href="#o" x="637.7" y="852.4"/><use href="#o" x="651.6" y="844.4"/><use href="#o" x="665.6" y="836.5"/><use href="#o" x="679.5" y="828.6"/><use href="#o" x="693.4" y="820.7"/><use href="#o" x="707.3" y="812.7"/><use href="#o" x="11.7" y="1225.3"/><use href="#o" x="25.6" y="1217.3"/><use href="#o" x="39.5" y="1209.4"/><use href="#o" x="53.4" y="1201.5"/><use href="#o" x="67.3" y="1193.5"/><use href="#o" x="81.3" y="1185.6"/><use href="#o" x="95.2" y="1177.7"/><use href="#o" x="109.1" y="1169.7"/><use href="#o" x="123" y="1161.8"/><use href="#o" x="136.9" y="1153.9"/><use href="#o" x="150.8" y="1145.9"/><use href="#o" x="164.7" y="1138"/><use href="#o" x="178.6" y="1130.1"/><use href="#o" x="192.5" y="1122.1"/><use href="#o" x="206.4" y="1114.2"/><use href="#o" x="220.4" y="1106.3"/><use href="#o" x="234.3" y="1098.3"/><use href="#o" x="248.2" y="1090.4"/><use href="#o" x="262.1" y="1082.5"/><use href="#o" x="276" y="1074.5"/><use href="#o" x="289.9" y="1066.6"/><use href="#o" x="303.8" y="1058.7"/><use href="#o" x="317.7" y="1050.7"/><use href="#o" x="331.6" y="1042.8"/><use href="#o" x="345.5" y="1034.9"/><use href="#o" x="359.5" y="1026.9"/><use href="#o" x="373.4" y="1019"/><use href="#o" x="387.3" y="1011.1"/><use href="#o" x="401.2" y="1003.2"/><use href="#o" x="415.1" y="995.2"/><use href="#o" x="429" y="987.3"/><use href="#o" x="442.9" y="979.4"/><use href="#o" x="456.8" y="971.4"/><use href="#o" x="470.7" y="963.5"/><use href="#o" x="484.6" y="955.6"/><use href="#o" x="498.6" y="947.6"/><use href="#o" x="512.5" y="939.7"/><use href="#o" x="526.4" y="931.8"/><use href="#o" x="540.3" y="923.8"/><use href="#o" x="554.2" y="915.9"/><use href="#o" x="568.1" y="908"/><use href="#o" x="582" y="900"/><use href="#o" x="595.9" y="892.1"/><use href="#o" x="609.8" y="884.2"/><use href="#o" x="623.7" y="876.2"/><use href="#o" x="637.7" y="868.3"/><use href="#o" x="651.6" y="860.4"/><use href="#o" x="665.5" y="852.4"/><use href="#o" x="679.4" y="844.5"/><use href="#o" x="693.3" y="836.6"/><use href="#o" x="707.2" y="828.6"/><use href="#o" x="11.6" y="1241.2"/><use href="#o" x="25.5" y="1233.2"/><use href="#o" x="39.5" y="1225.3"/><use href="#o" x="53.4" y="1217.4"/><use href="#o" x="67.3" y="1209.4"/><use href="#o" x="81.2" y="1201.5"/><use href="#o" x="95.1" y="1193.6"/><use href="#o" x="109" y="1185.6"/><use href="#o" x="122.9" y="1177.7"/><use href="#o" x="136.8" y="1169.8"/><use href="#o" x="150.7" y="1161.9"/><use href="#o" x="164.6" y="1153.9"/><use href="#o" x="178.5" y="1146"/><use href="#o" x="192.5" y="1138.1"/><use href="#o" x="206.4" y="1130.1"/><use href="#o" x="220.3" y="1122.2"/><use href="#o" x="234.2" y="1114.3"/><use href="#o" x="248.1" y="1106.3"/><use href="#o" x="262" y="1098.4"/><use href="#o" x="275.9" y="1090.5"/><use href="#o" x="289.8" y="1082.5"/><use href="#o" x="303.7" y="1074.6"/><use href="#o" x="317.6" y="1066.7"/><use href="#o" x="331.6" y="1058.7"/><use href="#o" x="345.5" y="1050.8"/><use href="#o" x="359.4" y="1042.9"/><use href="#o" x="373.3" y="1034.9"/><use href="#o" x="387.2" y="1027"/><use href="#o" x="401.1" y="1019.1"/><use href="#o" x="415" y="1011.1"/><use href="#o" x="428.9" y="1003.2"/><use href="#o" x="442.8" y="995.3"/><use href="#o" x="456.7" y="987.3"/><use href="#o" x="470.7" y="979.4"/><use href="#o" x="484.6" y="971.5"/><use href="#o" x="498.5" y="963.5"/><use href="#o" x="512.4" y="955.6"/><use href="#o" x="526.3" y="947.7"/><use href="#o" x="540.2" y="939.7"/><use href="#o" x="554.1" y="931.8"/><use href="#o" x="568" y="923.9"/><use href="#o" x="581.9" y="916"/><use href="#o" x="595.8" y="908"/><use href="#o" x="609.8" y="900.1"/><use href="#o" x="623.7" y="892.2"/><use href="#o" x="637.6" y="884.2"/><use href="#o" x="651.5" y="876.3"/><use href="#o" x="665.4" y="868.4"/><use href="#o" x="679.3" y="860.4"/><use href="#o" x="693.2" y="852.5"/><use href="#o" x="707.1" y="844.6"/><use href="#o" x="11.6" y="1257.1"/><use href="#o" x="25.5" y="1249.2"/><use href="#o" x="39.4" y="1241.2"/><use href="#o" x="53.3" y="1233.3"/><use href="#o" x="67.2" y="1225.4"/><use href="#o" x="81.1" y="1217.4"/><use href="#o" x="95" y="1209.5"/><use href="#o" x="108.9" y="1201.6"/><use href="#o" x="122.8" y="1193.6"/><use href="#o" x="136.7" y="1185.7"/><use href="#o" x="150.6" y="1177.8"/><use href="#o" x="164.6" y="1169.8"/><use href="#o" x="178.5" y="1161.9"/><use href="#o" x="192.4" y="1154"/><use href="#o" x="206.3" y="1146"/><use href="#o" x="220.2" y="1138.1"/><use href="#o" x="234.1" y="1130.2"/><use href="#o" x="248" y="1122.2"/><use href="#o" x="261.9" y="1114.3"/><use href="#o" x="275.8" y="1106.4"/><use href="#o" x="289.7" y="1098.4"/><use href="#o" x="303.7" y="1090.5"/><use href="#o" x="317.6" y="1082.6"/><use href="#o" x="331.5" y="1074.7"/><use href="#o" x="345.4" y="1066.7"/><use href="#o" x="359.3" y="1058.8"/><use href="#o" x="373.2" y="1050.9"/><use href="#o" x="387.1" y="1042.9"/><use href="#o" x="401" y="1035"/><use href="#o" x="414.9" y="1027.1"/><use href="#o" x="428.8" y="1019.1"/><use href="#o" x="442.8" y="1011.2"/><use href="#o" x="456.7" y="1003.3"/><use href="#o" x="470.6" y="995.3"/><use href="#o" x="484.5" y="987.4"/><use href="#o" x="498.4" y="979.5"/><use href="#o" x="512.3" y="971.5"/><use href="#o" x="526.2" y="963.6"/><use href="#o" x="540.1" y="955.7"/><use href="#o" x="554" y="947.7"/><use href="#o" x="567.9" y="939.8"/><use href="#o" x="581.9" y="931.9"/><use href="#o" x="595.8" y="923.9"/><use href="#o" x="609.7" y="916"/><use href="#o" x="623.6" y="908.1"/><use href="#o" x="637.5" y="900.1"/><use href="#o" x="651.4" y="892.2"/><use href="#o" x="665.3" y="884.3"/><use href="#o" x="679.2" y="876.3"/><use href="#o" x="693.1" y="868.4"/><use href="#o" x="707" y="860.5"/><use href="#o" x="11.5" y="1273"/><use href="#o" x="25.4" y="1265.1"/><use href="#o" x="39.3" y="1257.1"/><use href="#o" x="53.2" y="1249.2"/><use href="#o" x="67.1" y="1241.3"/><use href="#o" x="81" y="1233.4"/><use href="#o" x="94.9" y="1225.4"/><use href="#o" x="108.8" y="1217.5"/><use href="#o" x="122.8" y="1209.6"/><use href="#o" x="136.7" y="1201.6"/><use href="#o" x="150.6" y="1193.7"/><use href="#o" x="164.5" y="1185.8"/><use href="#o" x="178.4" y="1177.8"/><use href="#o" x="192.3" y="1169.9"/><use href="#o" x="206.2" y="1162"/><use href="#o" x="220.1" y="1154"/><use href="#o" x="234" y="1146.1"/><use href="#o" x="247.9" y="1138.2"/><use href="#o" x="261.8" y="1130.2"/><use href="#o" x="275.8" y="1122.3"/><use href="#o" x="289.7" y="1114.4"/><use href="#o" x="303.6" y="1106.4"/><use href="#o" x="317.5" y="1098.5"/><use href="#o" x="331.4" y="1090.6"/><use href="#o" x="345.3" y="1082.6"/><use href="#o" x="359.2" y="1074.7"/><use href="#o" x="373.1" y="1066.8"/><use href="#o" x="387" y="1058.8"/><use href="#o" x="400.9" y="1050.9"/><use href="#o" x="414.9" y="1043"/><use href="#o" x="428.8" y="1035"/><use href="#o" x="442.7" y="1027.1"/><use href="#o" x="456.6" y="1019.2"/><use href="#o" x="470.5" y="1011.2"/><use href="#o" x="484.4" y="1003.3"/><use href="#o" x="498.3" y="995.4"/><use href="#o" x="512.2" y="987.5"/><use href="#o" x="526.1" y="979.5"/><use href="#o" x="540" y="971.6"/><use href="#o" x="554" y="963.7"/><use href="#o" x="567.9" y="955.7"/><use href="#o" x="581.8" y="947.8"/><use href="#o" x="595.7" y="939.9"/><use href="#o" x="609.6" y="931.9"/><use href="#o" x="623.5" y="924"/><use href="#o" x="637.4" y="916.1"/><use href="#o" x="651.3" y="908.1"/><use href="#o" x="665.2" y="900.2"/><use href="#o" x="679.1" y="892.3"/><use href="#o" x="693.1" y="884.3"/><use href="#o" x="707" y="876.4"/><use href="#o" x="25.3" y="1281"/><use href="#o" x="39.2" y="1273.1"/><use href="#o" x="53.1" y="1265.1"/><use href="#o" x="67" y="1257.2"/><use href="#o" x="80.9" y="1249.3"/><use href="#o" x="94.9" y="1241.3"/><use href="#o" x="108.8" y="1233.4"/><use href="#o" x="122.7" y="1225.5"/><use href="#o" x="136.6" y="1217.5"/><use href="#o" x="150.5" y="1209.6"/><use href="#o" x="164.4" y="1201.7"/><use href="#o" x="178.3" y="1193.7"/><use href="#o" x="192.2" y="1185.8"/><use href="#o" x="206.1" y="1177.9"/><use href="#o" x="220" y="1169.9"/><use href="#o" x="233.9" y="1162"/><use href="#o" x="247.9" y="1154.1"/><use href="#o" x="261.8" y="1146.2"/><use href="#o" x="275.7" y="1138.2"/><use href="#o" x="289.6" y="1130.3"/><use href="#o" x="303.5" y="1122.4"/><use href="#o" x="317.4" y="1114.4"/><use href="#o" x="331.3" y="1106.5"/><use href="#o" x="345.2" y="1098.6"/><use href="#o" x="359.1" y="1090.6"/><use href="#o" x="373" y="1082.7"/><use href="#o" x="387" y="1074.8"/><use href="#o" x="400.9" y="1066.8"/><use href="#o" x="414.8" y="1058.9"/><use href="#o" x="442.6" y="1043"/><use href="#o" x="456.5" y="1035.1"/><use href="#o" x="470.4" y="1027.2"/><use href="#o" x="484.3" y="1019.2"/><use href="#o" x="498.2" y="1011.3"/><use href="#o" x="512.1" y="1003.4"/><use href="#o" x="526.1" y="995.4"/><use href="#o" x="540" y="987.5"/><use href="#o" x="553.9" y="979.6"/><use href="#o" x="567.8" y="971.6"/><use href="#o" x="581.7" y="963.7"/><use href="#o" x="595.6" y="955.8"/><use href="#o" x="609.5" y="947.8"/><use href="#o" x="623.4" y="939.9"/><use href="#o" x="637.3" y="932"/><use href="#o" x="651.2" y="924"/><use href="#o" x="665.2" y="916.1"/><use href="#o" x="679.1" y="908.2"/><use href="#o" x="693" y="900.3"/><use href="#o" x="706.9" y="892.3"/><use href="#o" x="53" y="1281.1"/><use href="#o" x="67" y="1273.1"/><use href="#o" x="80.9" y="1265.2"/><use href="#o" x="94.8" y="1257.3"/><use href="#o" x="108.7" y="1249.3"/><use href="#o" x="122.6" y="1241.4"/><use href="#o" x="136.5" y="1233.5"/><use href="#o" x="150.4" y="1225.5"/><use href="#o" x="164.3" y="1217.6"/><use href="#o" x="178.2" y="1209.7"/><use href="#o" x="192.1" y="1201.7"/><use href="#o" x="206" y="1193.8"/><use href="#o" x="220" y="1185.9"/><use href="#o" x="233.9" y="1177.9"/><use href="#o" x="247.8" y="1170"/><use href="#o" x="261.7" y="1162.1"/><use href="#o" x="275.6" y="1154.1"/><use href="#o" x="289.5" y="1146.2"/><use href="#o" x="303.4" y="1138.3"/><use href="#o" x="317.3" y="1130.3"/><use href="#o" x="331.2" y="1122.4"/><use href="#o" x="345.1" y="1114.5"/><use href="#o" x="359.1" y="1106.5"/><use href="#o" x="373" y="1098.6"/><use href="#o" x="386.9" y="1090.7"/><use href="#o" x="400.8" y="1082.8"/><use href="#o" x="414.7" y="1074.8"/><use href="#o" x="470.3" y="1043.1"/><use href="#o" x="484.2" y="1035.2"/><use href="#o" x="498.2" y="1027.2"/><use href="#o" x="512.1" y="1019.3"/><use href="#o" x="526" y="1011.4"/><use href="#o" x="539.9" y="1003.4"/><use href="#o" x="553.8" y="995.5"/><use href="#o" x="567.7" y="987.6"/><use href="#o" x="581.6" y="979.6"/><use href="#o" x="595.5" y="971.7"/><use href="#o" x="609.4" y="963.8"/><use href="#o" x="623.3" y="955.8"/><use href="#o" x="637.3" y="947.9"/><use href="#o" x="651.2" y="940"/><use href="#o" x="665.1" y="932"/><use href="#o" x="679" y="924.1"/><use href="#o" x="692.9" y="916.2"/><use href="#o" x="706.8" y="908.2"/><use href="#o" x="80.8" y="1281.1"/><use href="#o" x="94.7" y="1273.2"/><use href="#o" x="108.6" y="1265.2"/><use href="#o" x="122.5" y="1257.3"/><use href="#o" x="136.4" y="1249.4"/><use href="#o" x="150.3" y="1241.5"/><use href="#o" x="164.2" y="1233.5"/><use href="#o" x="178.2" y="1225.6"/><use href="#o" x="192.1" y="1217.7"/><use href="#o" x="206" y="1209.7"/><use href="#o" x="219.9" y="1201.8"/><use href="#o" x="233.8" y="1193.9"/><use href="#o" x="247.7" y="1185.9"/><use href="#o" x="261.6" y="1178"/><use href="#o" x="275.5" y="1170.1"/><use href="#o" x="289.4" y="1162.1"/><use href="#o" x="303.3" y="1154.2"/><use href="#o" x="317.2" y="1146.3"/><use href="#o" x="331.2" y="1138.3"/><use href="#o" x="345.1" y="1130.4"/><use href="#o" x="359" y="1122.5"/><use href="#o" x="372.9" y="1114.5"/><use href="#o" x="386.8" y="1106.6"/><use href="#o" x="400.7" y="1098.7"/><use href="#o" x="414.6" y="1090.7"/><use href="#o" x="498.1" y="1043.1"/><use href="#o" x="512" y="1035.2"/><use href="#o" x="525.9" y="1027.3"/><use href="#o" x="539.8" y="1019.3"/><use href="#o" x="553.7" y="1011.4"/><use href="#o" x="567.6" y="1003.5"/><use href="#o" x="581.5" y="995.6"/><use href="#o" x="595.4" y="987.6"/><use href="#o" x="609.4" y="979.7"/><use href="#o" x="623.3" y="971.8"/><use href="#o" x="637.2" y="963.8"/><use href="#o" x="651.1" y="955.9"/><use href="#o" x="665" y="948"/><use href="#o" x="678.9" y="940"/><use href="#o" x="692.8" y="932.1"/><use href="#o" x="706.7" y="924.2"/><use href="#o" x="108.5" y="1281.2"/><use href="#o" x="122.4" y="1273.2"/><use href="#o" x="136.3" y="1265.3"/><use href="#o" x="150.3" y="1257.4"/><use href="#o" x="164.2" y="1249.4"/><use href="#o" x="178.1" y="1241.5"/><use href="#o" x="192" y="1233.6"/><use href="#o" x="205.9" y="1225.6"/><use href="#o" x="219.8" y="1217.7"/><use href="#o" x="233.7" y="1209.8"/><use href="#o" x="247.6" y="1201.8"/><use href="#o" x="261.5" y="1193.9"/><use href="#o" x="275.4" y="1186"/><use href="#o" x="289.3" y="1178"/><use href="#o" x="303.3" y="1170.1"/><use href="#o" x="317.2" y="1162.2"/><use href="#o" x="331.1" y="1154.3"/><use href="#o" x="345" y="1146.3"/><use href="#o" x="358.9" y="1138.4"/><use href="#o" x="372.8" y="1130.5"/><use href="#o" x="386.7" y="1122.5"/><use href="#o" x="400.6" y="1114.6"/><use href="#o" x="414.5" y="1106.7"/><use href="#o" x="525.8" y="1043.2"/><use href="#o" x="539.7" y="1035.3"/><use href="#o" x="553.6" y="1027.3"/><use href="#o" x="567.5" y="1019.4"/><use href="#o" x="581.5" y="1011.5"/><use href="#o" x="595.4" y="1003.5"/><use href="#o" x="609.3" y="995.6"/><use href="#o" x="623.2" y="987.7"/><use href="#o" x="637.1" y="979.7"/><use href="#o" x="651" y="971.8"/><use href="#o" x="664.9" y="963.9"/><use href="#o" x="678.8" y="955.9"/><use href="#o" x="692.7" y="948"/><use href="#o" x="706.6" y="940.1"/><use href="#o" x="136.3" y="1281.2"/><use href="#o" x="150.2" y="1273.3"/><use href="#o" x="164.1" y="1265.4"/><use href="#o" x="178" y="1257.4"/><use href="#o" x="191.9" y="1249.5"/><use href="#o" x="205.8" y="1241.6"/><use href="#o" x="219.7" y="1233.6"/><use href="#o" x="233.6" y="1225.7"/><use href="#o" x="247.5" y="1217.8"/><use href="#o" x="261.4" y="1209.8"/><use href="#o" x="275.4" y="1201.9"/><use href="#o" x="289.3" y="1194"/><use href="#o" x="303.2" y="1186"/><use href="#o" x="317.1" y="1178.1"/><use href="#o" x="331" y="1170.2"/><use href="#o" x="344.9" y="1162.2"/><use href="#o" x="358.8" y="1154.3"/><use href="#o" x="372.7" y="1146.4"/><use href="#o" x="386.6" y="1138.4"/><use href="#o" x="400.5" y="1130.5"/><use href="#o" x="414.5" y="1122.6"/><use href="#o" x="553.6" y="1043.3"/><use href="#o" x="567.5" y="1035.3"/><use href="#o" x="581.4" y="1027.4"/><use href="#o" x="595.3" y="1019.5"/><use href="#o" x="609.2" y="1011.5"/><use href="#o" x="623.1" y="1003.6"/><use href="#o" x="637" y="995.7"/><use href="#o" x="650.9" y="987.7"/><use href="#o" x="664.8" y="979.8"/><use href="#o" x="678.7" y="971.9"/><use href="#o" x="692.7" y="963.9"/><use href="#o" x="706.6" y="956"/><use href="#o" x="164" y="1281.3"/><use href="#o" x="177.9" y="1273.3"/><use href="#o" x="191.8" y="1265.4"/><use href="#o" x="205.7" y="1257.5"/><use href="#o" x="219.6" y="1249.5"/><use href="#o" x="233.6" y="1241.6"/><use href="#o" x="247.5" y="1233.7"/><use href="#o" x="261.4" y="1225.8"/><use href="#o" x="275.3" y="1217.8"/><use href="#o" x="289.2" y="1209.9"/><use href="#o" x="303.1" y="1202"/><use href="#o" x="317" y="1194"/><use href="#o" x="330.9" y="1186.1"/><use href="#o" x="344.8" y="1178.2"/><use href="#o" x="358.7" y="1170.2"/><use href="#o" x="372.6" y="1162.3"/><use href="#o" x="386.6" y="1154.4"/><use href="#o" x="400.5" y="1146.4"/><use href="#o" x="414.4" y="1138.5"/><use href="#o" x="581.3" y="1043.3"/><use href="#o" x="595.2" y="1035.4"/><use href="#o" x="609.1" y="1027.4"/><use href="#o" x="623" y="1019.5"/><use href="#o" x="636.9" y="1011.6"/><use href="#o" x="650.8" y="1003.6"/><use href="#o" x="664.8" y="995.7"/><use href="#o" x="678.7" y="987.8"/><use href="#o" x="692.6" y="979.9"/><use href="#o" x="706.5" y="971.9"/><use href="#o" x="191.7" y="1281.3"/><use href="#o" x="205.7" y="1273.4"/><use href="#o" x="219.6" y="1265.5"/><use href="#o" x="233.5" y="1257.5"/><use href="#o" x="247.4" y="1249.6"/><use href="#o" x="261.3" y="1241.7"/><use href="#o" x="275.2" y="1233.7"/><use href="#o" x="289.1" y="1225.8"/><use href="#o" x="303" y="1217.9"/><use href="#o" x="316.9" y="1209.9"/><use href="#o" x="330.8" y="1202"/><use href="#o" x="344.7" y="1194.1"/><use href="#o" x="358.7" y="1186.1"/><use href="#o" x="372.6" y="1178.2"/><use href="#o" x="386.5" y="1170.3"/><use href="#o" x="400.4" y="1162.4"/><use href="#o" x="414.3" y="1154.4"/><use href="#o" x="609" y="1043.4"/><use href="#o" x="622.9" y="1035.4"/><use href="#o" x="636.9" y="1027.5"/><use href="#o" x="650.8" y="1019.6"/><use href="#o" x="664.7" y="1011.6"/><use href="#o" x="678.6" y="1003.7"/><use href="#o" x="692.5" y="995.8"/><use href="#o" x="706.4" y="987.8"/><use href="#o" x="219.5" y="1281.4"/><use href="#o" x="233.4" y="1273.5"/><use href="#o" x="247.3" y="1265.5"/><use href="#o" x="261.2" y="1257.6"/><use href="#o" x="275.1" y="1249.7"/><use href="#o" x="289" y="1241.7"/><use href="#o" x="302.9" y="1233.8"/><use href="#o" x="316.9" y="1225.9"/><use href="#o" x="330.8" y="1217.9"/><use href="#o" x="344.7" y="1210"/><use href="#o" x="358.6" y="1202.1"/><use href="#o" x="372.5" y="1194.1"/><use href="#o" x="386.4" y="1186.2"/><use href="#o" x="400.3" y="1178.3"/><use href="#o" x="414.2" y="1170.3"/><use href="#o" x="636.8" y="1043.4"/><use href="#o" x="650.7" y="1035.5"/><use href="#o" x="664.6" y="1027.6"/><use href="#o" x="678.5" y="1019.6"/><use href="#o" x="692.4" y="1011.7"/><use href="#o" x="706.3" y="1003.8"/><use href="#o" x="247.2" y="1281.4"/><use href="#o" x="261.1" y="1273.5"/><use href="#o" x="275" y="1265.6"/><use href="#o" x="289" y="1257.6"/><use href="#o" x="302.9" y="1249.7"/><use href="#o" x="316.8" y="1241.8"/><use href="#o" x="330.7" y="1233.9"/><use href="#o" x="344.6" y="1225.9"/><use href="#o" x="358.5" y="1218"/><use href="#o" x="372.4" y="1210.1"/><use href="#o" x="386.3" y="1202.1"/><use href="#o" x="400.2" y="1194.2"/><use href="#o" x="414.1" y="1186.3"/><use href="#o" x="664.5" y="1043.5"/><use href="#o" x="678.4" y="1035.5"/><use href="#o" x="692.3" y="1027.6"/><use href="#o" x="706.2" y="1019.7"/><use href="#o" x="275" y="1281.5"/><use href="#o" x="288.9" y="1273.6"/><use href="#o" x="302.8" y="1265.6"/><use href="#o" x="316.7" y="1257.7"/><use href="#o" x="330.6" y="1249.8"/><use href="#o" x="344.5" y="1241.8"/><use href="#o" x="358.4" y="1233.9"/><use href="#o" x="372.3" y="1226"/><use href="#o" x="386.2" y="1218"/><use href="#o" x="400.1" y="1210.1"/><use href="#o" x="414.1" y="1202.2"/><use href="#o" x="692.3" y="1043.5"/><use href="#o" x="706.2" y="1035.6"/><use href="#o" x="302.7" y="1281.6"/><use href="#o" x="316.6" y="1273.6"/><use href="#o" x="330.5" y="1265.7"/><use href="#o" x="344.4" y="1257.8"/><use href="#o" x="358.3" y="1249.8"/><use href="#o" x="372.3" y="1241.9"/><use href="#o" x="386.2" y="1234"/><use href="#o" x="400.1" y="1226"/><use href="#o" x="414" y="1218.1"/><use href="#o" x="330.4" y="1281.6"/><use href="#o" x="344.4" y="1273.7"/><use href="#o" x="358.3" y="1265.7"/><use href="#o" x="372.2" y="1257.8"/><use href="#o" x="386.1" y="1249.9"/><use href="#o" x="400" y="1242"/><use href="#o" x="413.9" y="1234"/><use href="#o" x="358.2" y="1281.7"/><use href="#o" x="372.1" y="1273.7"/><use href="#o" x="386" y="1265.8"/><use href="#o" x="399.9" y="1257.9"/><use href="#o" x="413.8" y="1249.9"/><use href="#o" x="385.9" y="1281.7"/><use href="#o" x="399.8" y="1273.8"/><use href="#o" x="413.7" y="1265.9"/><use href="#o" x="413.7" y="1281.8"/>
<use href="#k" x="69.3" y="811.4"/><use href="#k" x="97" y="811.5"/><use href="#k" x="83" y="835.4"/><use href="#k" x="124.7" y="811.6"/><use href="#k" x="27.3" y="883"/><use href="#k" x="69" y="859.2"/><use href="#k" x="110.8" y="835.4"/><use href="#k" x="152.5" y="811.6"/><use href="#k" x="13.3" y="906.9"/><use href="#k" x="55" y="883.1"/><use href="#k" x="96.8" y="859.3"/><use href="#k" x="138.5" y="835.5"/><use href="#k" x="180.2" y="811.7"/><use href="#k" x="41" y="906.9"/><use href="#k" x="82.8" y="883.1"/><use href="#k" x="124.5" y="859.3"/><use href="#k" x="166.2" y="835.5"/><use href="#k" x="208" y="811.7"/><use href="#k" x="27.1" y="930.8"/><use href="#k" x="68.8" y="907"/><use href="#k" x="110.5" y="883.2"/><use href="#k" x="152.2" y="859.4"/><use href="#k" x="194" y="835.6"/><use href="#k" x="235.7" y="811.8"/><use href="#k" x="13.1" y="954.6"/><use href="#k" x="54.8" y="930.8"/><use href="#k" x="96.5" y="907"/><use href="#k" x="138.3" y="883.2"/><use href="#k" x="180" y="859.4"/><use href="#k" x="221.7" y="835.6"/><use href="#k" x="263.4" y="811.8"/><use href="#k" x="40.8" y="954.7"/><use href="#k" x="82.5" y="930.9"/><use href="#k" x="124.3" y="907.1"/><use href="#k" x="166" y="883.3"/><use href="#k" x="207.7" y="859.5"/><use href="#k" x="249.5" y="835.7"/><use href="#k" x="291.2" y="811.9"/><use href="#k" x="26.8" y="978.5"/><use href="#k" x="68.5" y="954.7"/><use href="#k" x="110.3" y="930.9"/><use href="#k" x="152" y="907.1"/><use href="#k" x="193.7" y="883.3"/><use href="#k" x="235.5" y="859.5"/><use href="#k" x="277.2" y="835.7"/><use href="#k" x="318.9" y="811.9"/><use href="#k" x="12.8" y="1002.4"/><use href="#k" x="54.6" y="978.6"/><use href="#k" x="96.3" y="954.8"/><use href="#k" x="138" y="931"/><use href="#k" x="179.7" y="907.2"/><use href="#k" x="221.5" y="883.4"/><use href="#k" x="263.2" y="859.6"/><use href="#k" x="304.9" y="835.8"/><use href="#k" x="346.7" y="812"/><use href="#k" x="40.6" y="1002.4"/><use href="#k" x="82.3" y="978.6"/><use href="#k" x="124" y="954.8"/><use href="#k" x="165.8" y="931"/><use href="#k" x="207.5" y="907.2"/><use href="#k" x="249.2" y="883.4"/><use href="#k" x="290.9" y="859.6"/><use href="#k" x="332.7" y="835.9"/><use href="#k" x="374.4" y="812.1"/><use href="#k" x="26.6" y="1026.3"/><use href="#k" x="68.3" y="1002.5"/><use href="#k" x="110" y="978.7"/><use href="#k" x="151.8" y="954.9"/><use href="#k" x="193.5" y="931.1"/><use href="#k" x="235.2" y="907.3"/><use href="#k" x="277" y="883.5"/><use href="#k" x="318.7" y="859.7"/><use href="#k" x="360.4" y="835.9"/><use href="#k" x="402.1" y="812.1"/><use href="#k" x="12.6" y="1050.1"/><use href="#k" x="54.3" y="1026.3"/><use href="#k" x="96" y="1002.5"/><use href="#k" x="137.8" y="978.7"/><use href="#k" x="179.5" y="954.9"/><use href="#k" x="221.2" y="931.1"/><use href="#k" x="263" y="907.4"/><use href="#k" x="304.7" y="883.6"/><use href="#k" x="346.4" y="859.8"/><use href="#k" x="388.2" y="836"/><use href="#k" x="429.9" y="812.2"/><use href="#k" x="40.3" y="1050.2"/><use href="#k" x="82.1" y="1026.4"/><use href="#k" x="123.8" y="1002.6"/><use href="#k" x="165.5" y="978.8"/><use href="#k" x="207.2" y="955"/><use href="#k" x="249" y="931.2"/><use href="#k" x="290.7" y="907.4"/><use href="#k" x="332.4" y="883.6"/><use href="#k" x="374.2" y="859.8"/><use href="#k" x="415.9" y="836"/><use href="#k" x="457.6" y="812.2"/><use href="#k" x="26.3" y="1074"/><use href="#k" x="68.1" y="1050.2"/><use href="#k" x="109.8" y="1026.4"/><use href="#k" x="151.5" y="1002.7"/><use href="#k" x="193.3" y="978.9"/><use href="#k" x="235" y="955.1"/><use href="#k" x="276.7" y="931.3"/><use href="#k" x="318.4" y="907.5"/><use href="#k" x="360.2" y="883.7"/><use href="#k" x="401.9" y="859.9"/><use href="#k" x="443.6" y="836.1"/><use href="#k" x="485.4" y="812.3"/><use href="#k" x="12.3" y="1097.9"/><use href="#k" x="54.1" y="1074.1"/><use href="#k" x="95.8" y="1050.3"/><use href="#k" x="137.5" y="1026.5"/><use href="#k" x="179.3" y="1002.7"/><use href="#k" x="221" y="978.9"/><use href="#k" x="262.7" y="955.1"/><use href="#k" x="304.5" y="931.3"/><use href="#k" x="346.2" y="907.5"/><use href="#k" x="387.9" y="883.7"/><use href="#k" x="429.6" y="859.9"/><use href="#k" x="471.4" y="836.1"/><use href="#k" x="513.1" y="812.3"/><use href="#k" x="40.1" y="1097.9"/><use href="#k" x="81.8" y="1074.2"/><use href="#k" x="123.5" y="1050.4"/><use href="#k" x="165.3" y="1026.6"/><use href="#k" x="207" y="1002.8"/><use href="#k" x="248.7" y="979"/><use href="#k" x="290.5" y="955.2"/><use href="#k" x="332.2" y="931.4"/><use href="#k" x="373.9" y="907.6"/><use href="#k" x="415.7" y="883.8"/><use href="#k" x="457.4" y="860"/><use href="#k" x="499.1" y="836.2"/><use href="#k" x="540.8" y="812.4"/><use href="#k" x="26.1" y="1121.8"/><use href="#k" x="67.8" y="1098"/><use href="#k" x="109.6" y="1074.2"/><use href="#k" x="151.3" y="1050.4"/><use href="#k" x="193" y="1026.6"/><use href="#k" x="234.7" y="1002.8"/><use href="#k" x="276.5" y="979"/><use href="#k" x="318.2" y="955.2"/><use href="#k" x="359.9" y="931.4"/><use href="#k" x="401.7" y="907.6"/><use href="#k" x="443.4" y="883.8"/><use href="#k" x="485.1" y="860"/><use href="#k" x="526.9" y="836.2"/><use href="#k" x="568.6" y="812.4"/><use href="#k" x="12.1" y="1145.7"/><use href="#k" x="53.8" y="1121.9"/><use href="#k" x="95.6" y="1098.1"/><use href="#k" x="137.3" y="1074.3"/><use href="#k" x="179" y="1050.5"/><use href="#k" x="220.8" y="1026.7"/><use href="#k" x="262.5" y="1002.9"/><use href="#k" x="304.2" y="979.1"/><use href="#k" x="345.9" y="955.3"/><use href="#k" x="387.7" y="931.5"/><use href="#k" x="429.4" y="907.7"/><use href="#k" x="471.1" y="883.9"/><use href="#k" x="512.9" y="860.1"/><use href="#k" x="554.6" y="836.3"/><use href="#k" x="596.3" y="812.5"/><use href="#k" x="39.8" y="1145.7"/><use href="#k" x="81.6" y="1121.9"/><use href="#k" x="123.3" y="1098.1"/><use href="#k" x="165" y="1074.3"/><use href="#k" x="206.8" y="1050.5"/><use href="#k" x="248.5" y="1026.7"/><use href="#k" x="290.2" y="1002.9"/><use href="#k" x="332" y="979.1"/><use href="#k" x="373.7" y="955.3"/><use href="#k" x="415.4" y="931.5"/><use href="#k" x="457.1" y="907.7"/><use href="#k" x="498.9" y="883.9"/><use href="#k" x="540.6" y="860.1"/><use href="#k" x="582.3" y="836.4"/><use href="#k" x="624.1" y="812.6"/><use href="#k" x="25.9" y="1169.6"/><use href="#k" x="67.6" y="1145.8"/><use href="#k" x="109.3" y="1122"/><use href="#k" x="151" y="1098.2"/><use href="#k" x="192.8" y="1074.4"/><use href="#k" x="234.5" y="1050.6"/><use href="#k" x="276.2" y="1026.8"/><use href="#k" x="318" y="1003"/><use href="#k" x="359.7" y="979.2"/><use href="#k" x="401.4" y="955.4"/><use href="#k" x="443.2" y="931.6"/><use href="#k" x="484.9" y="907.8"/><use href="#k" x="526.6" y="884"/><use href="#k" x="568.3" y="860.2"/><use href="#k" x="610.1" y="836.4"/><use href="#k" x="651.8" y="812.6"/><use href="#k" x="11.9" y="1193.4"/><use href="#k" x="53.6" y="1169.6"/><use href="#k" x="95.3" y="1145.8"/><use href="#k" x="137.1" y="1122"/><use href="#k" x="178.8" y="1098.2"/><use href="#k" x="220.5" y="1074.4"/><use href="#k" x="262.2" y="1050.6"/><use href="#k" x="304" y="1026.8"/><use href="#k" x="345.7" y="1003"/><use href="#k" x="387.4" y="979.2"/><use href="#k" x="429.2" y="955.4"/><use href="#k" x="470.9" y="931.6"/><use href="#k" x="512.6" y="907.9"/><use href="#k" x="554.4" y="884.1"/><use href="#k" x="596.1" y="860.3"/><use href="#k" x="637.8" y="836.5"/><use href="#k" x="679.5" y="812.7"/><use href="#k" x="39.6" y="1193.5"/><use href="#k" x="81.3" y="1169.7"/><use href="#k" x="123.1" y="1145.9"/><use href="#k" x="164.8" y="1122.1"/><use href="#k" x="206.5" y="1098.3"/><use href="#k" x="248.3" y="1074.5"/><use href="#k" x="290" y="1050.7"/><use href="#k" x="331.7" y="1026.9"/><use href="#k" x="373.4" y="1003.1"/><use href="#k" x="415.2" y="979.3"/><use href="#k" x="456.9" y="955.5"/><use href="#k" x="498.6" y="931.7"/><use href="#k" x="540.4" y="907.9"/><use href="#k" x="582.1" y="884.1"/><use href="#k" x="623.8" y="860.3"/><use href="#k" x="665.6" y="836.5"/><use href="#k" x="707.3" y="812.7"/><use href="#k" x="25.6" y="1217.3"/><use href="#k" x="67.3" y="1193.5"/><use href="#k" x="109.1" y="1169.7"/><use href="#k" x="150.8" y="1145.9"/><use href="#k" x="192.5" y="1122.1"/><use href="#k" x="234.3" y="1098.3"/><use href="#k" x="276" y="1074.5"/><use href="#k" x="317.7" y="1050.7"/><use href="#k" x="359.5" y="1026.9"/><use href="#k" x="401.2" y="1003.2"/><use href="#k" x="442.9" y="979.4"/><use href="#k" x="484.6" y="955.6"/><use href="#k" x="526.4" y="931.8"/><use href="#k" x="568.1" y="908"/><use href="#k" x="609.8" y="884.2"/><use href="#k" x="651.6" y="860.4"/><use href="#k" x="693.3" y="836.6"/><use href="#k" x="11.6" y="1241.2"/><use href="#k" x="53.4" y="1217.4"/><use href="#k" x="95.1" y="1193.6"/><use href="#k" x="136.8" y="1169.8"/><use href="#k" x="178.5" y="1146"/><use href="#k" x="220.3" y="1122.2"/><use href="#k" x="262" y="1098.4"/><use href="#k" x="303.7" y="1074.6"/><use href="#k" x="345.5" y="1050.8"/><use href="#k" x="387.2" y="1027"/><use href="#k" x="428.9" y="1003.2"/><use href="#k" x="470.7" y="979.4"/><use href="#k" x="512.4" y="955.6"/><use href="#k" x="554.1" y="931.8"/><use href="#k" x="595.8" y="908"/><use href="#k" x="637.6" y="884.2"/><use href="#k" x="679.3" y="860.4"/><use href="#k" x="39.4" y="1241.2"/><use href="#k" x="81.1" y="1217.4"/><use href="#k" x="122.8" y="1193.6"/><use href="#k" x="164.6" y="1169.8"/><use href="#k" x="206.3" y="1146"/><use href="#k" x="248" y="1122.2"/><use href="#k" x="289.7" y="1098.4"/><use href="#k" x="331.5" y="1074.7"/><use href="#k" x="373.2" y="1050.9"/><use href="#k" x="414.9" y="1027.1"/><use href="#k" x="456.7" y="1003.3"/><use href="#k" x="498.4" y="979.5"/><use href="#k" x="540.1" y="955.7"/><use href="#k" x="581.9" y="931.9"/><use href="#k" x="623.6" y="908.1"/><use href="#k" x="665.3" y="884.3"/><use href="#k" x="707" y="860.5"/><use href="#k" x="25.4" y="1265.1"/><use href="#k" x="67.1" y="1241.3"/><use href="#k" x="108.8" y="1217.5"/><use href="#k" x="150.6" y="1193.7"/><use href="#k" x="192.3" y="1169.9"/><use href="#k" x="234" y="1146.1"/><use href="#k" x="275.8" y="1122.3"/><use href="#k" x="317.5" y="1098.5"/><use href="#k" x="359.2" y="1074.7"/><use href="#k" x="400.9" y="1050.9"/><use href="#k" x="442.7" y="1027.1"/><use href="#k" x="484.4" y="1003.3"/><use href="#k" x="526.1" y="979.5"/><use href="#k" x="567.9" y="955.7"/><use href="#k" x="609.6" y="931.9"/><use href="#k" x="651.3" y="908.1"/><use href="#k" x="693.1" y="884.3"/><use href="#k" x="53.1" y="1265.1"/><use href="#k" x="94.9" y="1241.3"/><use href="#k" x="136.6" y="1217.5"/><use href="#k" x="178.3" y="1193.7"/><use href="#k" x="220" y="1169.9"/><use href="#k" x="261.8" y="1146.2"/><use href="#k" x="303.5" y="1122.4"/><use href="#k" x="345.2" y="1098.6"/><use href="#k" x="387" y="1074.8"/><use href="#k" x="470.4" y="1027.2"/><use href="#k" x="512.1" y="1003.4"/><use href="#k" x="553.9" y="979.6"/><use href="#k" x="595.6" y="955.8"/><use href="#k" x="637.3" y="932"/><use href="#k" x="679.1" y="908.2"/><use href="#k" x="80.9" y="1265.2"/><use href="#k" x="122.6" y="1241.4"/><use href="#k" x="164.3" y="1217.6"/><use href="#k" x="206" y="1193.8"/><use href="#k" x="247.8" y="1170"/><use href="#k" x="289.5" y="1146.2"/><use href="#k" x="331.2" y="1122.4"/><use href="#k" x="373" y="1098.6"/><use href="#k" x="414.7" y="1074.8"/><use href="#k" x="498.2" y="1027.2"/><use href="#k" x="539.9" y="1003.4"/><use href="#k" x="581.6" y="979.6"/><use href="#k" x="623.3" y="955.8"/><use href="#k" x="665.1" y="932"/><use href="#k" x="706.8" y="908.2"/><use href="#k" x="108.6" y="1265.2"/><use href="#k" x="150.3" y="1241.5"/><use href="#k" x="192.1" y="1217.7"/><use href="#k" x="233.8" y="1193.9"/><use href="#k" x="275.5" y="1170.1"/><use href="#k" x="317.2" y="1146.3"/><use href="#k" x="359" y="1122.5"/><use href="#k" x="400.7" y="1098.7"/><use href="#k" x="525.9" y="1027.3"/><use href="#k" x="567.6" y="1003.5"/><use href="#k" x="609.4" y="979.7"/><use href="#k" x="651.1" y="955.9"/><use href="#k" x="692.8" y="932.1"/><use href="#k" x="136.3" y="1265.3"/><use href="#k" x="178.1" y="1241.5"/><use href="#k" x="219.8" y="1217.7"/><use href="#k" x="261.5" y="1193.9"/><use href="#k" x="303.3" y="1170.1"/><use href="#k" x="345" y="1146.3"/><use href="#k" x="386.7" y="1122.5"/><use href="#k" x="553.6" y="1027.3"/><use href="#k" x="595.4" y="1003.5"/><use href="#k" x="637.1" y="979.7"/><use href="#k" x="678.8" y="955.9"/><use href="#k" x="164.1" y="1265.4"/><use href="#k" x="205.8" y="1241.6"/><use href="#k" x="247.5" y="1217.8"/><use href="#k" x="289.3" y="1194"/><use href="#k" x="331" y="1170.2"/><use href="#k" x="372.7" y="1146.4"/><use href="#k" x="414.5" y="1122.6"/><use href="#k" x="581.4" y="1027.4"/><use href="#k" x="623.1" y="1003.6"/><use href="#k" x="664.8" y="979.8"/><use href="#k" x="706.6" y="956"/><use href="#k" x="191.8" y="1265.4"/><use href="#k" x="233.6" y="1241.6"/><use href="#k" x="275.3" y="1217.8"/><use href="#k" x="317" y="1194"/><use href="#k" x="358.7" y="1170.2"/><use href="#k" x="400.5" y="1146.4"/><use href="#k" x="609.1" y="1027.4"/><use href="#k" x="650.8" y="1003.6"/><use href="#k" x="692.6" y="979.9"/><use href="#k" x="219.6" y="1265.5"/><use href="#k" x="261.3" y="1241.7"/><use href="#k" x="303" y="1217.9"/><use href="#k" x="344.7" y="1194.1"/><use href="#k" x="386.5" y="1170.3"/><use href="#k" x="636.9" y="1027.5"/><use href="#k" x="678.6" y="1003.7"/><use href="#k" x="247.3" y="1265.5"/><use href="#k" x="289" y="1241.7"/><use href="#k" x="330.8" y="1217.9"/><use href="#k" x="372.5" y="1194.1"/><use href="#k" x="414.2" y="1170.3"/><use href="#k" x="664.6" y="1027.6"/><use href="#k" x="706.3" y="1003.8"/><use href="#k" x="275" y="1265.6"/><use href="#k" x="316.8" y="1241.8"/><use href="#k" x="358.5" y="1218"/><use href="#k" x="400.2" y="1194.2"/><use href="#k" x="692.3" y="1027.6"/><use href="#k" x="302.8" y="1265.6"/><use href="#k" x="344.5" y="1241.8"/><use href="#k" x="386.2" y="1218"/><use href="#k" x="330.5" y="1265.7"/><use href="#k" x="372.3" y="1241.9"/><use href="#k" x="414" y="1218.1"/><use href="#k" x="358.3" y="1265.7"/><use href="#k" x="400" y="1242"/><use href="#k" x="386" y="1265.8"/><use href="#k" x="413.7" y="1265.9"/>
<use href="#g" x="12.3" y="1279.2"/><use href="#g" x="24.3" y="1252.8"/><use href="#g" x="41.2" y="1276.4"/><use href="#g" x="19.5" y="1202.8"/><use href="#g" x="36.4" y="1226.4"/><use href="#g" x="53.3" y="1250"/><use href="#g" x="70.2" y="1273.6"/><use href="#g" x="14.7" y="1152.7"/><use href="#g" x="31.6" y="1176.3"/><use href="#g" x="48.5" y="1199.9"/><use href="#g" x="65.3" y="1223.6"/><use href="#g" x="82.2" y="1247.2"/><use href="#g" x="99.1" y="1270.8"/><use href="#g" x="26.7" y="1126.3"/><use href="#g" x="43.6" y="1149.9"/><use href="#g" x="60.5" y="1173.5"/><use href="#g" x="77.4" y="1197.2"/><use href="#g" x="94.3" y="1220.8"/><use href="#g" x="111.2" y="1244.4"/><use href="#g" x="128.1" y="1268"/><use href="#g" x="21.9" y="1076.3"/><use href="#g" x="38.8" y="1099.9"/><use href="#g" x="55.7" y="1123.5"/><use href="#g" x="72.6" y="1147.1"/><use href="#g" x="89.5" y="1170.7"/><use href="#g" x="106.4" y="1194.3"/><use href="#g" x="123.2" y="1218"/><use href="#g" x="140.1" y="1241.6"/><use href="#g" x="157" y="1265.2"/><use href="#g" x="17.1" y="1026.3"/><use href="#g" x="34" y="1049.9"/><use href="#g" x="50.8" y="1073.5"/><use href="#g" x="67.7" y="1097.1"/><use href="#g" x="84.6" y="1120.7"/><use href="#g" x="101.5" y="1144.3"/><use href="#g" x="118.4" y="1167.9"/><use href="#g" x="135.3" y="1191.5"/><use href="#g" x="152.2" y="1215.2"/><use href="#g" x="169.1" y="1238.8"/><use href="#g" x="186" y="1262.4"/><use href="#g" x="12.2" y="976.3"/><use href="#g" x="29.1" y="999.9"/><use href="#g" x="46" y="1023.5"/><use href="#g" x="62.9" y="1047.1"/><use href="#g" x="79.8" y="1070.7"/><use href="#g" x="96.7" y="1094.3"/><use href="#g" x="113.6" y="1117.9"/><use href="#g" x="130.5" y="1141.5"/><use href="#g" x="147.4" y="1165.1"/><use href="#g" x="164.3" y="1188.8"/><use href="#g" x="181.1" y="1212.4"/><use href="#g" x="198" y="1236"/><use href="#g" x="214.9" y="1259.6"/><use href="#g" x="231.8" y="1283.2"/><use href="#g" x="24.3" y="949.8"/><use href="#g" x="41.2" y="973.5"/><use href="#g" x="58.1" y="997.1"/><use href="#g" x="75" y="1020.7"/><use href="#g" x="91.9" y="1044.3"/><use href="#g" x="108.8" y="1067.9"/><use href="#g" x="125.6" y="1091.5"/><use href="#g" x="142.5" y="1115.1"/><use href="#g" x="159.4" y="1138.7"/><use href="#g" x="176.3" y="1162.3"/><use href="#g" x="193.2" y="1185.9"/><use href="#g" x="210.1" y="1209.6"/><use href="#g" x="227" y="1233.2"/><use href="#g" x="243.9" y="1256.8"/><use href="#g" x="260.8" y="1280.4"/><use href="#g" x="19.5" y="899.8"/><use href="#g" x="36.4" y="923.4"/><use href="#g" x="53.2" y="947"/><use href="#g" x="70.1" y="970.7"/><use href="#g" x="87" y="994.3"/><use href="#g" x="103.9" y="1017.9"/><use href="#g" x="120.8" y="1041.5"/><use href="#g" x="137.7" y="1065.1"/><use href="#g" x="154.6" y="1088.7"/><use href="#g" x="171.5" y="1112.3"/><use href="#g" x="188.4" y="1135.9"/><use href="#g" x="205.3" y="1159.5"/><use href="#g" x="222.2" y="1183.2"/><use href="#g" x="239" y="1206.8"/><use href="#g" x="255.9" y="1230.4"/><use href="#g" x="272.8" y="1254"/><use href="#g" x="289.7" y="1277.6"/><use href="#g" x="31.5" y="873.4"/><use href="#g" x="48.4" y="897"/><use href="#g" x="65.3" y="920.6"/><use href="#g" x="82.2" y="944.2"/><use href="#g" x="99.1" y="967.9"/><use href="#g" x="116" y="991.5"/><use href="#g" x="132.9" y="1015.1"/><use href="#g" x="149.8" y="1038.7"/><use href="#g" x="166.7" y="1062.3"/><use href="#g" x="183.5" y="1085.9"/><use href="#g" x="200.4" y="1109.5"/><use href="#g" x="217.3" y="1133.1"/><use href="#g" x="234.2" y="1156.7"/><use href="#g" x="251.1" y="1180.3"/><use href="#g" x="268" y="1204"/><use href="#g" x="284.9" y="1227.6"/><use href="#g" x="301.8" y="1251.2"/><use href="#g" x="318.7" y="1274.8"/><use href="#g" x="60.5" y="870.6"/><use href="#g" x="77.4" y="894.2"/><use href="#g" x="94.3" y="917.8"/><use href="#g" x="111.2" y="941.4"/><use href="#g" x="128" y="965.1"/><use href="#g" x="144.9" y="988.7"/><use href="#g" x="161.8" y="1012.3"/><use href="#g" x="178.7" y="1035.9"/><use href="#g" x="195.6" y="1059.5"/><use href="#g" x="212.5" y="1083.1"/><use href="#g" x="229.4" y="1106.7"/><use href="#g" x="246.3" y="1130.3"/><use href="#g" x="263.2" y="1153.9"/><use href="#g" x="280.1" y="1177.5"/><use href="#g" x="296.9" y="1201.2"/><use href="#g" x="313.8" y="1224.8"/><use href="#g" x="330.7" y="1248.4"/><use href="#g" x="347.6" y="1272"/><use href="#g" x="72.5" y="844.2"/><use href="#g" x="89.4" y="867.8"/><use href="#g" x="106.3" y="891.4"/><use href="#g" x="123.2" y="915"/><use href="#g" x="140.1" y="938.6"/><use href="#g" x="157" y="962.3"/><use href="#g" x="173.9" y="985.9"/><use href="#g" x="190.8" y="1009.5"/><use href="#g" x="207.7" y="1033.1"/><use href="#g" x="224.6" y="1056.7"/><use href="#g" x="241.4" y="1080.3"/><use href="#g" x="258.3" y="1103.9"/><use href="#g" x="275.2" y="1127.5"/><use href="#g" x="292.1" y="1151.1"/><use href="#g" x="309" y="1174.8"/><use href="#g" x="325.9" y="1198.4"/><use href="#g" x="342.8" y="1222"/><use href="#g" x="359.7" y="1245.6"/><use href="#g" x="376.6" y="1269.2"/><use href="#g" x="67.7" y="794.2"/><use href="#g" x="84.6" y="817.8"/><use href="#g" x="101.5" y="841.4"/><use href="#g" x="118.4" y="865"/><use href="#g" x="135.3" y="888.6"/><use href="#g" x="152.2" y="912.2"/><use href="#g" x="169.1" y="935.8"/><use href="#g" x="185.9" y="959.5"/><use href="#g" x="202.8" y="983.1"/><use href="#g" x="219.7" y="1006.7"/><use href="#g" x="236.6" y="1030.3"/><use href="#g" x="253.5" y="1053.9"/><use href="#g" x="270.4" y="1077.5"/><use href="#g" x="287.3" y="1101.1"/><use href="#g" x="304.2" y="1124.7"/><use href="#g" x="321.1" y="1148.3"/><use href="#g" x="338" y="1171.9"/><use href="#g" x="354.8" y="1195.6"/><use href="#g" x="371.7" y="1219.2"/><use href="#g" x="388.6" y="1242.8"/><use href="#g" x="405.5" y="1266.4"/><use href="#g" x="96.7" y="791.4"/><use href="#g" x="113.5" y="815"/><use href="#g" x="130.4" y="838.6"/><use href="#g" x="147.3" y="862.2"/><use href="#g" x="164.2" y="885.8"/><use href="#g" x="181.1" y="909.4"/><use href="#g" x="198" y="933"/><use href="#g" x="214.9" y="956.7"/><use href="#g" x="231.8" y="980.3"/><use href="#g" x="248.7" y="1003.9"/><use href="#g" x="265.6" y="1027.5"/><use href="#g" x="282.4" y="1051.1"/><use href="#g" x="299.3" y="1074.7"/><use href="#g" x="316.2" y="1098.3"/><use href="#g" x="333.1" y="1121.9"/><use href="#g" x="350" y="1145.5"/><use href="#g" x="366.9" y="1169.2"/><use href="#g" x="383.8" y="1192.8"/><use href="#g" x="400.7" y="1216.4"/><use href="#g" x="142.5" y="812.2"/><use href="#g" x="159.4" y="835.8"/><use href="#g" x="176.3" y="859.4"/><use href="#g" x="193.2" y="883"/><use href="#g" x="210.1" y="906.6"/><use href="#g" x="226.9" y="930.2"/><use href="#g" x="243.8" y="953.9"/><use href="#g" x="260.7" y="977.5"/><use href="#g" x="277.6" y="1001.1"/><use href="#g" x="294.5" y="1024.7"/><use href="#g" x="311.4" y="1048.3"/><use href="#g" x="328.3" y="1071.9"/><use href="#g" x="345.2" y="1095.5"/><use href="#g" x="362.1" y="1119.1"/><use href="#g" x="379" y="1142.7"/><use href="#g" x="395.9" y="1166.3"/><use href="#g" x="412.7" y="1190"/><use href="#g" x="171.4" y="809.4"/><use href="#g" x="188.3" y="833"/><use href="#g" x="205.2" y="856.6"/><use href="#g" x="222.1" y="880.2"/><use href="#g" x="239" y="903.8"/><use href="#g" x="255.9" y="927.4"/><use href="#g" x="272.8" y="951.1"/><use href="#g" x="289.7" y="974.7"/><use href="#g" x="306.6" y="998.3"/><use href="#g" x="323.5" y="1021.9"/><use href="#g" x="340.4" y="1045.5"/><use href="#g" x="357.2" y="1069.1"/><use href="#g" x="374.1" y="1092.7"/><use href="#g" x="391" y="1116.3"/><use href="#g" x="407.9" y="1139.9"/><use href="#g" x="200.4" y="806.6"/><use href="#g" x="217.3" y="830.2"/><use href="#g" x="234.2" y="853.8"/><use href="#g" x="251.1" y="877.4"/><use href="#g" x="268" y="901"/><use href="#g" x="284.8" y="924.6"/><use href="#g" x="301.7" y="948.3"/><use href="#g" x="318.6" y="971.9"/><use href="#g" x="335.5" y="995.5"/><use href="#g" x="352.4" y="1019.1"/><use href="#g" x="369.3" y="1042.7"/><use href="#g" x="386.2" y="1066.3"/><use href="#g" x="403.1" y="1089.9"/><use href="#g" x="229.3" y="803.8"/><use href="#g" x="246.2" y="827.4"/><use href="#g" x="263.1" y="851"/><use href="#g" x="280" y="874.6"/><use href="#g" x="296.9" y="898.2"/><use href="#g" x="313.8" y="921.8"/><use href="#g" x="330.7" y="945.5"/><use href="#g" x="347.6" y="969.1"/><use href="#g" x="364.5" y="992.7"/><use href="#g" x="381.4" y="1016.3"/><use href="#g" x="398.2" y="1039.9"/><use href="#g" x="415.1" y="1063.5"/><use href="#g" x="258.3" y="801"/><use href="#g" x="275.2" y="824.6"/><use href="#g" x="292.1" y="848.2"/><use href="#g" x="309" y="871.8"/><use href="#g" x="325.9" y="895.4"/><use href="#g" x="342.7" y="919"/><use href="#g" x="359.6" y="942.7"/><use href="#g" x="376.5" y="966.3"/><use href="#g" x="393.4" y="989.9"/><use href="#g" x="410.3" y="1013.5"/><use href="#g" x="427.2" y="1037.1"/><use href="#g" x="287.2" y="798.2"/><use href="#g" x="304.1" y="821.8"/><use href="#g" x="321" y="845.4"/><use href="#g" x="337.9" y="869"/><use href="#g" x="354.8" y="892.6"/><use href="#g" x="371.7" y="916.2"/><use href="#g" x="388.6" y="939.9"/><use href="#g" x="405.5" y="963.5"/><use href="#g" x="422.4" y="987.1"/><use href="#g" x="439.3" y="1010.7"/><use href="#g" x="456.1" y="1034.3"/><use href="#g" x="316.2" y="795.4"/><use href="#g" x="333.1" y="819"/><use href="#g" x="350" y="842.6"/><use href="#g" x="366.9" y="866.2"/><use href="#g" x="383.8" y="889.8"/><use href="#g" x="400.6" y="913.4"/><use href="#g" x="417.5" y="937.1"/><use href="#g" x="434.4" y="960.7"/><use href="#g" x="451.3" y="984.3"/><use href="#g" x="468.2" y="1007.9"/><use href="#g" x="485.1" y="1031.5"/><use href="#g" x="345.1" y="792.6"/><use href="#g" x="362" y="816.2"/><use href="#g" x="378.9" y="839.8"/><use href="#g" x="395.8" y="863.4"/><use href="#g" x="412.7" y="887"/><use href="#g" x="429.6" y="910.6"/><use href="#g" x="446.5" y="934.3"/><use href="#g" x="463.4" y="957.9"/><use href="#g" x="480.3" y="981.5"/><use href="#g" x="497.2" y="1005.1"/><use href="#g" x="514" y="1028.7"/><use href="#g" x="374.1" y="789.8"/><use href="#g" x="391" y="813.4"/><use href="#g" x="407.9" y="837"/><use href="#g" x="424.8" y="860.6"/><use href="#g" x="441.7" y="884.2"/><use href="#g" x="458.6" y="907.8"/><use href="#g" x="475.4" y="931.5"/><use href="#g" x="492.3" y="955.1"/><use href="#g" x="509.2" y="978.7"/><use href="#g" x="526.1" y="1002.3"/><use href="#g" x="543" y="1025.9"/><use href="#g" x="419.9" y="810.6"/><use href="#g" x="436.8" y="834.2"/><use href="#g" x="453.7" y="857.8"/><use href="#g" x="470.6" y="881.4"/><use href="#g" x="487.5" y="905"/><use href="#g" x="504.4" y="928.7"/><use href="#g" x="521.3" y="952.3"/><use href="#g" x="538.2" y="975.9"/><use href="#g" x="555.1" y="999.5"/><use href="#g" x="571.9" y="1023.1"/><use href="#g" x="448.9" y="807.8"/><use href="#g" x="465.8" y="831.4"/><use href="#g" x="482.7" y="855"/><use href="#g" x="499.6" y="878.6"/><use href="#g" x="516.5" y="902.2"/><use href="#g" x="533.3" y="925.9"/><use href="#g" x="550.2" y="949.5"/><use href="#g" x="567.1" y="973.1"/><use href="#g" x="584" y="996.7"/><use href="#g" x="600.9" y="1020.3"/><use href="#g" x="617.8" y="1043.9"/><use href="#g" x="477.8" y="805"/><use href="#g" x="494.7" y="828.6"/><use href="#g" x="511.6" y="852.2"/><use href="#g" x="528.5" y="875.8"/><use href="#g" x="545.4" y="899.4"/><use href="#g" x="562.3" y="923.1"/><use href="#g" x="579.2" y="946.7"/><use href="#g" x="596.1" y="970.3"/><use href="#g" x="613" y="993.9"/><use href="#g" x="629.8" y="1017.5"/><use href="#g" x="646.7" y="1041.1"/><use href="#g" x="506.8" y="802.2"/><use href="#g" x="523.7" y="825.8"/><use href="#g" x="540.6" y="849.4"/><use href="#g" x="557.5" y="873"/><use href="#g" x="574.4" y="896.6"/><use href="#g" x="591.2" y="920.3"/><use href="#g" x="608.1" y="943.9"/><use href="#g" x="625" y="967.5"/><use href="#g" x="641.9" y="991.1"/><use href="#g" x="658.8" y="1014.7"/><use href="#g" x="675.7" y="1038.3"/><use href="#g" x="535.7" y="799.4"/><use href="#g" x="552.6" y="823"/><use href="#g" x="569.5" y="846.6"/><use href="#g" x="586.4" y="870.2"/><use href="#g" x="603.3" y="893.8"/><use href="#g" x="620.2" y="917.5"/><use href="#g" x="637.1" y="941.1"/><use href="#g" x="654" y="964.7"/><use href="#g" x="670.9" y="988.3"/><use href="#g" x="687.8" y="1011.9"/><use href="#g" x="704.6" y="1035.5"/><use href="#g" x="564.7" y="796.6"/><use href="#g" x="581.6" y="820.2"/><use href="#g" x="598.5" y="843.8"/><use href="#g" x="615.4" y="867.4"/><use href="#g" x="632.2" y="891"/><use href="#g" x="649.1" y="914.7"/><use href="#g" x="666" y="938.3"/><use href="#g" x="682.9" y="961.9"/><use href="#g" x="699.8" y="985.5"/><use href="#g" x="716.7" y="1009.1"/><use href="#g" x="593.6" y="793.8"/><use href="#g" x="610.5" y="817.4"/><use href="#g" x="627.4" y="841"/><use href="#g" x="644.3" y="864.6"/><use href="#g" x="661.2" y="888.2"/><use href="#g" x="678.1" y="911.9"/><use href="#g" x="695" y="935.5"/><use href="#g" x="711.9" y="959.1"/><use href="#g" x="622.6" y="791"/><use href="#g" x="639.5" y="814.6"/><use href="#g" x="656.4" y="838.2"/><use href="#g" x="673.3" y="861.8"/><use href="#g" x="690.2" y="885.4"/><use href="#g" x="707" y="909.1"/><use href="#g" x="668.4" y="811.8"/><use href="#g" x="685.3" y="835.4"/><use href="#g" x="702.2" y="859"/><use href="#g" x="697.4" y="809"/><use href="#g" x="714.3" y="832.6"/>
</g></g>
<rect x="0" y="790" width="68.2" height="80" fill="#fff"/>
<text font-family='"Liberation Sans", sans-serif' font-size="48.5" x="17.6" y="856.2" fill="#0c0c0c" stroke="#0c0c0c" stroke-width="1.2">C</text>
<path d="M41 1115.6L179.6 875.4H457.4L318.8 1115.6" fill="none" stroke="#0a0a0a" stroke-width="2.05" stroke-linejoin="miter"/>
<path d="M41 1115.6H308" fill="none" stroke="#0a0a0a" stroke-width="3"/>
<path d="M320 1115.6l-19 -8v16z" fill="#0a0a0a"/>
<rect x="199.4" y="1128" width="47" height="59.6" fill="#fff"/>
<text font-family='"Liberation Sans", sans-serif' font-size="48" x="203" y="1170.6" fill="#111">r</text>
<text font-family='"Liberation Sans", sans-serif' font-size="25" x="220.2" y="1179.6" fill="#111">M</text>
<path d="M206 1136.6h28" stroke="#111" stroke-width="3.1"/><path d="M243.6 1136.6l-11 -5v10z" fill="#111"/>
<rect x="407.6" y="1037.0" width="330" height="250" fill="#fff"/>
<clipPath id="ci"><rect x="407.6" y="1037.0" width="323.4" height="243"/></clipPath>
<g clip-path="url(#ci)">
<circle cx="439.6" cy="1114.0" r="29.3" fill="url(#gO)"/>
<circle cx="439.6" cy="1198.0" r="29.3" fill="url(#gO)"/>
<circle cx="512.8" cy="1071.6" r="29.3" fill="url(#gO)"/>
<circle cx="512.8" cy="1155.7" r="29.3" fill="url(#gO)"/>
<circle cx="512.8" cy="1239.8" r="29.3" fill="url(#gO)"/>
<circle cx="585.2" cy="1114.0" r="29.3" fill="url(#gO)"/>
<circle cx="585.2" cy="1198.0" r="29.3" fill="url(#gO)"/>
<circle cx="657.5" cy="1071.6" r="29.3" fill="url(#gO)"/>
<circle cx="657.5" cy="1155.7" r="29.3" fill="url(#gO)"/>
<circle cx="657.5" cy="1239.8" r="29.3" fill="url(#gO)"/>
<circle cx="440.7" cy="1114.9" r="31.4" fill="url(#gG)"/>
<circle cx="592.4" cy="1099.8" r="31.4" fill="url(#gG)"/>
<circle cx="529.1" cy="1237.2" r="31.4" fill="url(#gG)"/>
<circle cx="679.8" cy="1223.0" r="31.4" fill="url(#gG)"/>
<g fill="none" stroke="#0a0a0a">
<path d="M439.5 1113.6H704" stroke-width="3.4" stroke-dasharray="2.8 1.7 1.3 1.7"/>
<path d="M512.5 1240H656.5" stroke-width="3" stroke-dasharray="2.8 1.7 1.3 1.7"/>
<path d="M585.4 1114.9L656.3 1239.6" stroke-width="2.4" stroke-dasharray="2.2 2.4"/>
<path d="M590.8 1099.3L705.2 1086.2" stroke-width="2.4" stroke-dasharray="2.2 2.4"/>
<path d="M439.5 1114.2L590.8 1099.4L679.6 1223.3L528.5 1238.3" stroke-width="2.7" stroke-linejoin="miter"/>
</g>
<path d="M439.5 1114.2L503.3 1078" stroke="#0a0a0a" stroke-width="3.3" fill="none"/><path d="M514.2 1071.8L505.1 1083L499.9 1073.9z" fill="#0a0a0a"/>
<path d="M439.5 1114.2L439.2 1191.3" stroke="#0a0a0a" stroke-width="3.2" fill="none"/><path d="M439.2 1204.8L432.2 1190.3L446.2 1190.3z" fill="#0a0a0a"/>
<path d="M439.5 1114.2L504.7 1228.3" stroke="#0a0a0a" stroke-width="2.3" fill="none"/><path d="M511.2 1239.6L499.3 1230.3L509.2 1224.6z" fill="#0a0a0a"/>
<path d="M439.5 1114.2L518.6 1226.5" stroke="#0a0a0a" stroke-width="2.9" fill="none"/><path d="M527 1238.4L512.8 1229.5L523.4 1222z" fill="#0a0a0a"/>
</g>
<g font-family='"Liberation Sans", sans-serif' fill="#14100e">
<text font-size="24" x="514.6" y="1088.2">a</text><text font-size="13.5" x="530.6" y="1095.4" stroke="#14100e" stroke-width="0.4">2</text>
<text font-size="25.5" x="409.2" y="1201.8">a</text><text font-size="13.5" x="427.6" y="1208.4" stroke="#14100e" stroke-width="0.4">1</text>
<text font-size="25.5" x="465.2" y="1224.2">r</text><text font-size="15.5" x="474.4" y="1230.4">S</text>
<text font-size="25.5" x="510.6" y="1208.4">r</text><text font-size="13.5" x="518.8" y="1219.4" stroke="#14100e" stroke-width="0.3">A</text>
</g>
<text font-family='"Liberation Serif", serif' font-size="27.5" x="637.8" y="1113.4" fill="#14100e" stroke="#14100e" stroke-width="0.35">Φ</text>
<path d="M515.8 1066L529.9 1066" stroke="#0a0a0a" stroke-width="2.7" fill="none"/><path d="M537.4 1066L528.9 1069.8L528.9 1062.2z" fill="#0a0a0a"/>
<path d="M410.4 1180.7L424.1 1180.7" stroke="#0a0a0a" stroke-width="2.7" fill="none"/><path d="M431.6 1180.7L423.1 1184.5L423.1 1176.9z" fill="#0a0a0a"/>
<path d="M464.6 1203L477.5 1203" stroke="#0a0a0a" stroke-width="2.7" fill="none"/><path d="M485 1203L476.5 1206.8L476.5 1199.2z" fill="#0a0a0a"/>
<path d="M509.8 1187.2L522.9 1187.2" stroke="#0a0a0a" stroke-width="2.7" fill="none"/><path d="M530.4 1187.2L521.9 1191L521.9 1183.4z" fill="#0a0a0a"/>
</g>
</svg></body></html>
